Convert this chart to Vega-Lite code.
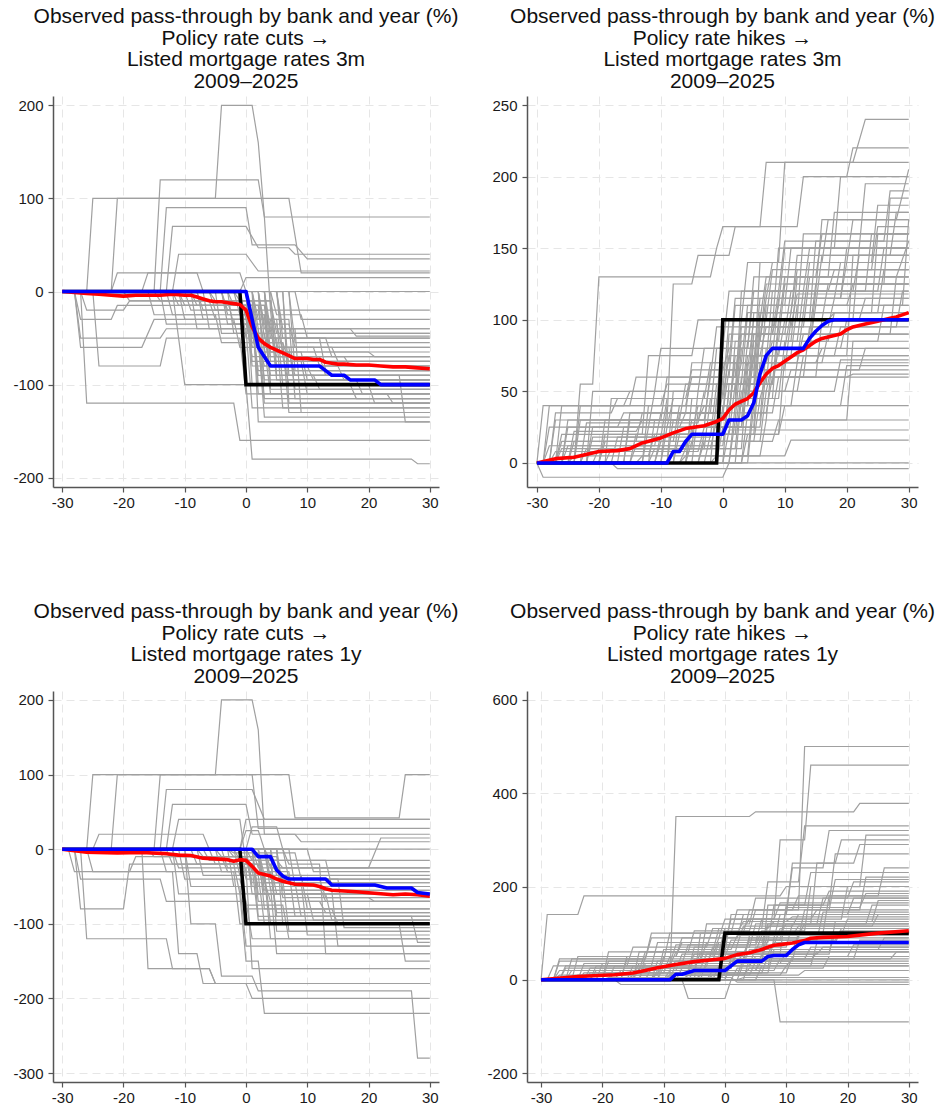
{
"$schema":"https://vega.github.io/schema/vega-lite/v6.json",
"background":"white",
"padding":{"left":12,"top":5,"right":5,"bottom":5},
"config":{
 "view":{"stroke":null},
 "font":"Liberation Sans",
 "axis":{"title":null,"labelFont":"Liberation Sans","labelFontSize":15,"labelColor":"#1a1a1a","domainColor":"#555555","domainWidth":1.5,"tickColor":"#555555","tickSize":5,"tickWidth":1.2,"grid":true,"gridColor":"#e6e6e6","gridDash":[8,5],"gridWidth":1,"labelExpr":"datum.value + ''"},
 "axisY":{"labelPadding":5},
 "axisX":{"labelPadding":3},
 "title":{"font":"Liberation Sans","fontSize":21,"fontWeight":"normal","lineHeight":21.7,"color":"#111111","anchor":"middle","frame":"group","offset":4}
},
"columns":2,
"spacing":{"row":204,"column":88},
"bounds":"flush",
"resolve":{"scale":{"x":"independent","y":"independent"}},
"datasets":{
"s1":[
{"s":"p","x":-30,"y":0},{"s":"p","x":-1,"y":0},{"s":"p","x":0,"y":-100},{"s":"p","x":30,"y":-100},
{"s":"m","x":-30,"y":0},{"s":"m","x":-28,"y":-1},{"s":"m","x":-26,"y":-2},{"s":"m","x":-24,"y":-3},{"s":"m","x":-22,"y":-4},{"s":"m","x":-20,"y":-5},{"s":"m","x":-18,"y":-4},{"s":"m","x":-16,"y":-4},{"s":"m","x":-14,"y":-4},{"s":"m","x":-12,"y":-3},{"s":"m","x":-10,"y":-4},{"s":"m","x":-9,"y":-4},{"s":"m","x":-8,"y":-6},{"s":"m","x":-7,"y":-8},{"s":"m","x":-6,"y":-10},{"s":"m","x":-5,"y":-11},{"s":"m","x":-4,"y":-11},{"s":"m","x":-3,"y":-12},{"s":"m","x":-2,"y":-13},{"s":"m","x":-1,"y":-14},{"s":"m","x":0,"y":-20},{"s":"m","x":1,"y":-38},{"s":"m","x":2,"y":-50},{"s":"m","x":3,"y":-56},{"s":"m","x":4,"y":-60},{"s":"m","x":5,"y":-63},{"s":"m","x":6,"y":-66},{"s":"m","x":7,"y":-69},{"s":"m","x":8,"y":-72},{"s":"m","x":10,"y":-72},{"s":"m","x":11,"y":-73},{"s":"m","x":12,"y":-73},{"s":"m","x":13,"y":-76},{"s":"m","x":14,"y":-77},{"s":"m","x":15,"y":-78},{"s":"m","x":16,"y":-78},{"s":"m","x":18,"y":-79},{"s":"m","x":20,"y":-79},{"s":"m","x":22,"y":-80},{"s":"m","x":24,"y":-81},{"s":"m","x":26,"y":-81},{"s":"m","x":28,"y":-82},{"s":"m","x":30,"y":-83},
{"s":"d","x":-30,"y":0},{"s":"d","x":0,"y":0},{"s":"d","x":1,"y":-30},{"s":"d","x":2,"y":-60},{"s":"d","x":3,"y":-70},{"s":"d","x":4,"y":-80},{"s":"d","x":12,"y":-80},{"s":"d","x":13,"y":-85},{"s":"d","x":14,"y":-90},{"s":"d","x":16,"y":-90},{"s":"d","x":17,"y":-95},{"s":"d","x":21,"y":-95},{"s":"d","x":22,"y":-100},{"s":"d","x":30,"y":-100}
],
"s2":[
{"s":"p","x":-30,"y":0},{"s":"p","x":-1,"y":0},{"s":"p","x":0,"y":100},{"s":"p","x":30,"y":100},
{"s":"m","x":-30,"y":0},{"s":"m","x":-27,"y":3},{"s":"m","x":-24,"y":4},{"s":"m","x":-21,"y":7},{"s":"m","x":-20,"y":8},{"s":"m","x":-17,"y":8.6},{"s":"m","x":-15,"y":10},{"s":"m","x":-13,"y":14},{"s":"m","x":-10,"y":17.5},{"s":"m","x":-8,"y":21},{"s":"m","x":-6,"y":24},{"s":"m","x":-3,"y":26},{"s":"m","x":-1,"y":29},{"s":"m","x":0,"y":31},{"s":"m","x":1,"y":37},{"s":"m","x":2,"y":41},{"s":"m","x":3,"y":43},{"s":"m","x":4,"y":45},{"s":"m","x":5,"y":49},{"s":"m","x":6,"y":56},{"s":"m","x":7,"y":62},{"s":"m","x":8,"y":66},{"s":"m","x":9,"y":68},{"s":"m","x":10,"y":71},{"s":"m","x":11,"y":74},{"s":"m","x":12,"y":77},{"s":"m","x":13,"y":79},{"s":"m","x":14,"y":82},{"s":"m","x":15,"y":85},{"s":"m","x":16,"y":87},{"s":"m","x":17,"y":88},{"s":"m","x":18,"y":89},{"s":"m","x":19,"y":90},{"s":"m","x":20,"y":93},{"s":"m","x":21,"y":95},{"s":"m","x":23,"y":97},{"s":"m","x":25,"y":99},{"s":"m","x":27,"y":101},{"s":"m","x":28,"y":102},{"s":"m","x":30,"y":105},
{"s":"d","x":-30,"y":0},{"s":"d","x":-9,"y":0},{"s":"d","x":-8,"y":8},{"s":"d","x":-7,"y":8},{"s":"d","x":-6,"y":15},{"s":"d","x":-5,"y":20},{"s":"d","x":0,"y":20},{"s":"d","x":1,"y":30},{"s":"d","x":3,"y":30},{"s":"d","x":4,"y":33},{"s":"d","x":5,"y":42},{"s":"d","x":6,"y":62},{"s":"d","x":7,"y":75},{"s":"d","x":8,"y":80},{"s":"d","x":13,"y":80},{"s":"d","x":14,"y":87},{"s":"d","x":15,"y":92},{"s":"d","x":16,"y":96},{"s":"d","x":17,"y":99},{"s":"d","x":18,"y":100},{"s":"d","x":30,"y":100}
],
"s3":[
{"s":"p","x":-30,"y":0},{"s":"p","x":-1,"y":0},{"s":"p","x":0,"y":-100},{"s":"p","x":30,"y":-100},
{"s":"m","x":-30,"y":0},{"s":"m","x":-26,"y":-4},{"s":"m","x":-21,"y":-5},{"s":"m","x":-17,"y":-4.5},{"s":"m","x":-13,"y":-6},{"s":"m","x":-11,"y":-8},{"s":"m","x":-9,"y":-8.5},{"s":"m","x":-7,"y":-12},{"s":"m","x":-5,"y":-13},{"s":"m","x":-3,"y":-14},{"s":"m","x":-2,"y":-16},{"s":"m","x":-1,"y":-14},{"s":"m","x":0,"y":-15},{"s":"m","x":1,"y":-23},{"s":"m","x":2,"y":-32},{"s":"m","x":3,"y":-34},{"s":"m","x":4,"y":-36},{"s":"m","x":5,"y":-40},{"s":"m","x":6,"y":-43},{"s":"m","x":7,"y":-45},{"s":"m","x":8,"y":-47},{"s":"m","x":11,"y":-48},{"s":"m","x":12,"y":-50},{"s":"m","x":13,"y":-53},{"s":"m","x":14,"y":-55},{"s":"m","x":16,"y":-56},{"s":"m","x":18,"y":-57},{"s":"m","x":21,"y":-59},{"s":"m","x":24,"y":-61},{"s":"m","x":26,"y":-60},{"s":"m","x":28,"y":-61},{"s":"m","x":30,"y":-63},
{"s":"d","x":-30,"y":0},{"s":"d","x":1,"y":0},{"s":"d","x":2,"y":-10},{"s":"d","x":4,"y":-10},{"s":"d","x":5,"y":-28},{"s":"d","x":6,"y":-36},{"s":"d","x":7,"y":-40},{"s":"d","x":13,"y":-40},{"s":"d","x":14,"y":-48},{"s":"d","x":21,"y":-48},{"s":"d","x":22,"y":-50},{"s":"d","x":23,"y":-52},{"s":"d","x":27,"y":-52},{"s":"d","x":28,"y":-58},{"s":"d","x":30,"y":-60}
],
"s4":[
{"s":"p","x":-30,"y":0},{"s":"p","x":-1,"y":0},{"s":"p","x":0,"y":100},{"s":"p","x":30,"y":100},
{"s":"m","x":-30,"y":0},{"s":"m","x":-24,"y":7},{"s":"m","x":-18,"y":11},{"s":"m","x":-15,"y":14.7},{"s":"m","x":-13,"y":20},{"s":"m","x":-11,"y":26},{"s":"m","x":-8,"y":33},{"s":"m","x":-5,"y":39},{"s":"m","x":-2,"y":43},{"s":"m","x":0,"y":46},{"s":"m","x":2,"y":54},{"s":"m","x":4,"y":58},{"s":"m","x":6,"y":65},{"s":"m","x":7,"y":70},{"s":"m","x":8,"y":74},{"s":"m","x":9,"y":75.5},{"s":"m","x":11,"y":79},{"s":"m","x":13,"y":84},{"s":"m","x":14,"y":89},{"s":"m","x":16,"y":91},{"s":"m","x":20,"y":93},{"s":"m","x":25,"y":100},{"s":"m","x":30,"y":105},
{"s":"d","x":-30,"y":0},{"s":"d","x":-9,"y":0},{"s":"d","x":-8,"y":12},{"s":"d","x":-7,"y":12},{"s":"d","x":-5,"y":20},{"s":"d","x":0,"y":20},{"s":"d","x":1,"y":30},{"s":"d","x":2,"y":40},{"s":"d","x":6,"y":40},{"s":"d","x":7,"y":50},{"s":"d","x":8,"y":52},{"s":"d","x":10,"y":52},{"s":"d","x":11,"y":65},{"s":"d","x":12,"y":75},{"s":"d","x":13,"y":80},{"s":"d","x":30,"y":80}
],
"g1":[
{"g":1,"x":-30,"y":0},{"g":1,"x":-26,"y":0},{"g":1,"x":-25,"y":100},{"g":1,"x":-5,"y":100},{"g":1,"x":-4,"y":200},{"g":1,"x":1,"y":200},{"g":1,"x":2,"y":160},{"g":1,"x":3,"y":80},{"g":1,"x":30,"y":80},
{"g":2,"x":-30,"y":0},{"g":2,"x":-22,"y":0},{"g":2,"x":-21,"y":100},{"g":2,"x":7,"y":100},{"g":2,"x":9,"y":20},{"g":2,"x":30,"y":20},
{"g":3,"x":-30,"y":0},{"g":3,"x":-15,"y":0},{"g":3,"x":-14,"y":120},{"g":3,"x":2,"y":120},{"g":3,"x":3,"y":80},{"g":3,"x":4,"y":-20},{"g":3,"x":30,"y":-20},
{"g":4,"x":-30,"y":0},{"g":4,"x":-14,"y":0},{"g":4,"x":-13,"y":90},{"g":4,"x":0,"y":90},{"g":4,"x":1,"y":50},{"g":4,"x":8,"y":50},{"g":4,"x":10,"y":35},{"g":4,"x":30,"y":35},
{"g":5,"x":-30,"y":0},{"g":5,"x":-13,"y":0},{"g":5,"x":-12,"y":70},{"g":5,"x":0,"y":70},{"g":5,"x":2,"y":47},{"g":5,"x":7,"y":47},{"g":5,"x":8,"y":40},{"g":5,"x":30,"y":40},
{"g":6,"x":-30,"y":0},{"g":6,"x":-12,"y":0},{"g":6,"x":-11,"y":40},{"g":6,"x":0,"y":40},{"g":6,"x":2,"y":22},{"g":6,"x":30,"y":22},
{"g":7,"x":-30,"y":0},{"g":7,"x":-22,"y":0},{"g":7,"x":-21,"y":20},{"g":7,"x":-8,"y":20},{"g":7,"x":-7,"y":0},{"g":7,"x":2,"y":0},{"g":7,"x":3,"y":-40},{"g":7,"x":30,"y":-40},
{"g":8,"x":-30,"y":0},{"g":8,"x":-17,"y":0},{"g":8,"x":-16,"y":20},{"g":8,"x":-1,"y":20},{"g":8,"x":0,"y":0},{"g":8,"x":30,"y":0},
{"g":9,"x":-30,"y":0},{"g":9,"x":-27,"y":0},{"g":9,"x":-26,"y":-20},{"g":9,"x":-20,"y":-20},{"g":9,"x":-19,"y":-10},{"g":9,"x":4,"y":-10},{"g":9,"x":5,"y":-60},{"g":9,"x":30,"y":-60},
{"g":10,"x":-30,"y":0},{"g":10,"x":-28,"y":0},{"g":10,"x":-27,"y":-30},{"g":10,"x":-22,"y":-30},{"g":10,"x":-21,"y":-15},{"g":10,"x":3,"y":-15},{"g":10,"x":5,"y":-70},{"g":10,"x":12,"y":-70},{"g":10,"x":13,"y":-90},{"g":10,"x":30,"y":-90},
{"g":11,"x":-30,"y":0},{"g":11,"x":-28,"y":0},{"g":11,"x":-27,"y":-50},{"g":11,"x":-14,"y":-50},{"g":11,"x":-13,"y":-40},{"g":11,"x":1,"y":-40},{"g":11,"x":2,"y":-90},{"g":11,"x":30,"y":-90},
{"g":12,"x":-30,"y":0},{"g":12,"x":-28,"y":0},{"g":12,"x":-27,"y":-60},{"g":12,"x":-17,"y":-60},{"g":12,"x":-15,"y":-30},{"g":12,"x":0,"y":-30},{"g":12,"x":1,"y":-70},{"g":12,"x":6,"y":-70},{"g":12,"x":7,"y":-100},{"g":12,"x":30,"y":-100},
{"g":13,"x":-30,"y":0},{"g":13,"x":-25,"y":0},{"g":13,"x":-24,"y":-80},{"g":13,"x":-14,"y":-80},{"g":13,"x":-13,"y":-50},{"g":13,"x":-1,"y":-50},{"g":13,"x":0,"y":-110},{"g":13,"x":30,"y":-110},
{"g":14,"x":-30,"y":0},{"g":14,"x":-27,"y":0},{"g":14,"x":-26,"y":-120},{"g":14,"x":-2,"y":-120},{"g":14,"x":-1,"y":-160},{"g":14,"x":30,"y":-160},
{"g":15,"x":-30,"y":0},{"g":15,"x":-12,"y":0},{"g":15,"x":-11,"y":-50},{"g":15,"x":-10,"y":-100},{"g":15,"x":0,"y":-100},{"g":15,"x":1,"y":-180},{"g":15,"x":27,"y":-180},{"g":15,"x":28,"y":-185},{"g":15,"x":30,"y":-185},
{"g":16,"x":-30,"y":0},{"g":16,"x":-10,"y":0},{"g":16,"x":-9,"y":-20},{"g":16,"x":0,"y":-20},{"g":16,"x":1,"y":-50},{"g":16,"x":30,"y":-50},
{"g":17,"x":-30,"y":0},{"g":17,"x":-8,"y":0},{"g":17,"x":-7,"y":-30},{"g":17,"x":1,"y":-30},{"g":17,"x":3,"y":-80},{"g":17,"x":10,"y":-80},{"g":17,"x":11,"y":-95},{"g":17,"x":30,"y":-95},
{"g":18,"x":-30,"y":0},{"g":18,"x":-6,"y":0},{"g":18,"x":-5,"y":-20},{"g":18,"x":2,"y":-20},{"g":18,"x":3,"y":-60},{"g":18,"x":14,"y":-60},{"g":18,"x":15,"y":-75},{"g":18,"x":30,"y":-75},
{"g":19,"x":-30,"y":0},{"g":19,"x":-4,"y":0},{"g":19,"x":-3,"y":-25},{"g":19,"x":3,"y":-25},{"g":19,"x":4,"y":-100},{"g":19,"x":20,"y":-100},{"g":19,"x":21,"y":-120},{"g":19,"x":30,"y":-120},
{"g":20,"x":-30,"y":0},{"g":20,"x":-2,"y":0},{"g":20,"x":-1,"y":-10},{"g":20,"x":4,"y":-10},{"g":20,"x":5,"y":-45},{"g":20,"x":30,"y":-45},
{"g":21,"x":-30,"y":0},{"g":21,"x":0,"y":0},{"g":21,"x":1,"y":-60},{"g":21,"x":7,"y":-60},{"g":21,"x":8,"y":-105},{"g":21,"x":30,"y":-105},
{"g":22,"x":-30,"y":0},{"g":22,"x":1,"y":0},{"g":22,"x":2,"y":-40},{"g":22,"x":8,"y":-40},{"g":22,"x":9,"y":-130},{"g":22,"x":30,"y":-130},
{"g":23,"x":-30,"y":0},{"g":23,"x":2,"y":0},{"g":23,"x":3,"y":-100},{"g":23,"x":17,"y":-100},{"g":23,"x":18,"y":-115},{"g":23,"x":30,"y":-115},
{"g":24,"x":-30,"y":0},{"g":24,"x":3,"y":0},{"g":24,"x":4,"y":-50},{"g":24,"x":12,"y":-50},{"g":24,"x":13,"y":-85},{"g":24,"x":30,"y":-85},
{"g":25,"x":-30,"y":0},{"g":25,"x":5,"y":0},{"g":25,"x":6,"y":-70},{"g":25,"x":16,"y":-70},{"g":25,"x":17,"y":-80},{"g":25,"x":30,"y":-80},
{"g":26,"x":-30,"y":0},{"g":26,"x":6,"y":0},{"g":26,"x":7,"y":-90},{"g":26,"x":25,"y":-90},{"g":26,"x":26,"y":-140},{"g":26,"x":30,"y":-140},
{"g":27,"x":-30,"y":0},{"g":27,"x":7,"y":0},{"g":27,"x":8,"y":-55},{"g":27,"x":30,"y":-55},
{"g":28,"x":-30,"y":0},{"g":28,"x":8,"y":0},{"g":28,"x":9,"y":-30},{"g":28,"x":30,"y":-30},
{"g":29,"x":-30,"y":0},{"g":29,"x":-9,"y":0},{"g":29,"x":-8,"y":-40},{"g":29,"x":0,"y":-40},{"g":29,"x":1,"y":-125},{"g":29,"x":30,"y":-125},
{"g":30,"x":-30,"y":0},{"g":30,"x":-20,"y":0},{"g":30,"x":-19,"y":-10},{"g":30,"x":-3,"y":-10},{"g":30,"x":-2,"y":-35},{"g":30,"x":5,"y":-35},{"g":30,"x":6,"y":-65},{"g":30,"x":30,"y":-65},
{"g":31,"x":-30,"y":0},{"g":31,"x":-1,"y":0},{"g":31,"x":0,"y":-50},{"g":31,"x":2,"y":-50},{"g":31,"x":3,"y":-135},{"g":31,"x":30,"y":-135},
{"g":32,"x":-30,"y":0},{"g":32,"x":-3,"y":0},{"g":32,"x":-2,"y":-15},{"g":32,"x":1,"y":-15},{"g":32,"x":2,"y":-100},{"g":32,"x":30,"y":-100},
{"g":33,"x":-30,"y":0},{"g":33,"x":0,"y":0},{"g":33,"x":1,"y":-75},{"g":33,"x":9,"y":-75},{"g":33,"x":10,"y":-110},{"g":33,"x":23,"y":-110},{"g":33,"x":24,"y":-120},{"g":33,"x":30,"y":-120},
{"g":34,"x":-30,"y":0},{"g":34,"x":4,"y":0},{"g":34,"x":5,"y":-25},{"g":34,"x":9,"y":-25},{"g":34,"x":10,"y":-50},{"g":34,"x":30,"y":-50},
{"g":35,"x":-30,"y":0},{"g":35,"x":-5,"y":0},{"g":35,"x":-4,"y":-45},{"g":35,"x":3,"y":-45},{"g":35,"x":4,"y":-90},{"g":35,"x":11,"y":-90},{"g":35,"x":12,"y":-105},{"g":35,"x":30,"y":-105},
{"g":36,"x":-30,"y":0},{"g":36,"x":-11,"y":0},{"g":36,"x":-10,"y":-15},{"g":36,"x":2,"y":-15},{"g":36,"x":3,"y":-65},{"g":36,"x":20,"y":-65},{"g":36,"x":21,"y":-70},{"g":36,"x":30,"y":-70},
{"g":37,"x":-30,"y":0},{"g":37,"x":1,"y":0},{"g":37,"x":2,"y":-140},{"g":37,"x":30,"y":-140},
{"g":38,"x":-30,"y":0},{"g":38,"x":3,"y":0},{"g":38,"x":4,"y":-40},{"g":38,"x":17,"y":-40},{"g":38,"x":18,"y":-48},{"g":38,"x":30,"y":-48},
{"g":39,"x":-30,"y":0},{"g":39,"x":-15,"y":0},{"g":39,"x":-14,"y":-10},{"g":39,"x":-6,"y":-10},{"g":39,"x":-5,"y":-30},{"g":39,"x":4,"y":-30},{"g":39,"x":5,"y":-95},{"g":39,"x":30,"y":-95},
{"g":40,"x":-30,"y":0},{"g":40,"x":-13,"y":0},{"g":40,"x":-12,"y":-25},{"g":40,"x":1,"y":-25},{"g":40,"x":2,"y":-110},{"g":40,"x":30,"y":-110},
{"g":41,"x":-30,"y":0},{"g":41,"x":-7,"y":0},{"g":41,"x":-6,"y":-40},{"g":41,"x":2,"y":-40},{"g":41,"x":3,"y":-115},{"g":41,"x":30,"y":-115},
{"g":42,"x":-30,"y":0},{"g":42,"x":-4,"y":0},{"g":42,"x":-3,"y":-20},{"g":42,"x":0,"y":-20},{"g":42,"x":1,"y":-80},{"g":42,"x":30,"y":-80},
{"g":43,"x":-30,"y":0},{"g":43,"x":-1,"y":0},{"g":43,"x":0,"y":-30},{"g":43,"x":5,"y":-30},{"g":43,"x":6,"y":-100},{"g":43,"x":30,"y":-100},
{"g":44,"x":-30,"y":0},{"g":44,"x":1,"y":0},{"g":44,"x":2,"y":-55},{"g":44,"x":6,"y":-55},{"g":44,"x":7,"y":-130},{"g":44,"x":30,"y":-130},
{"g":45,"x":-30,"y":0},{"g":45,"x":2,"y":0},{"g":45,"x":3,"y":-35},{"g":45,"x":7,"y":-35},{"g":45,"x":8,"y":-60},{"g":45,"x":30,"y":-60},
{"g":46,"x":-30,"y":0},{"g":46,"x":4,"y":0},{"g":46,"x":5,"y":-90},{"g":46,"x":30,"y":-90},
{"g":47,"x":-30,"y":0},{"g":47,"x":5,"y":0},{"g":47,"x":6,"y":-50},{"g":47,"x":13,"y":-50},{"g":47,"x":14,"y":-70},{"g":47,"x":30,"y":-70},
{"g":48,"x":-30,"y":0},{"g":48,"x":6,"y":0},{"g":48,"x":7,"y":-120},{"g":48,"x":30,"y":-120},
{"g":49,"x":-30,"y":0},{"g":49,"x":-9,"y":0},{"g":49,"x":-8,"y":-15},{"g":49,"x":3,"y":-15},{"g":49,"x":4,"y":-75},{"g":49,"x":30,"y":-75},
{"g":50,"x":-30,"y":0},{"g":50,"x":-3,"y":0},{"g":50,"x":-2,"y":-45},{"g":50,"x":2,"y":-45},{"g":50,"x":3,"y":-95},{"g":50,"x":18,"y":-95},{"g":50,"x":19,"y":-110},{"g":50,"x":30,"y":-110},
{"g":51,"x":-30,"y":0},{"g":51,"x":0,"y":0},{"g":51,"x":1,"y":-45},{"g":51,"x":30,"y":-45},
{"g":52,"x":-30,"y":0},{"g":52,"x":7,"y":0},{"g":52,"x":8,"y":-85},{"g":52,"x":30,"y":-85},
{"g":53,"x":-30,"y":0},{"g":53,"x":-14,"y":0},{"g":53,"x":-13,"y":-35},{"g":53,"x":0,"y":-35},{"g":53,"x":1,"y":-60},{"g":53,"x":11,"y":-60},{"g":53,"x":12,"y":-80},{"g":53,"x":30,"y":-80},
{"g":54,"x":-30,"y":0},{"g":54,"x":3,"y":0},{"g":54,"x":4,"y":-65},{"g":54,"x":9,"y":-65},{"g":54,"x":10,"y":-95},{"g":54,"x":30,"y":-95},
{"g":55,"x":-30,"y":0},{"g":55,"x":-1,"y":0},{"g":55,"x":0,"y":15},{"g":55,"x":30,"y":15},
{"g":56,"x":-30,"y":0},{"g":56,"x":-11,"y":0},{"g":56,"x":-10,"y":-30},{"g":56,"x":-2,"y":-30},{"g":56,"x":-1,"y":-60},{"g":56,"x":3,"y":-60},{"g":56,"x":4,"y":-110},{"g":56,"x":30,"y":-110},
{"g":57,"x":-30,"y":0},{"g":57,"x":-6,"y":0},{"g":57,"x":-5,"y":-10},{"g":57,"x":1,"y":-10},{"g":57,"x":2,"y":-65},{"g":57,"x":7,"y":-65},{"g":57,"x":8,"y":-90},{"g":57,"x":30,"y":-90},
{"g":58,"x":-30,"y":0},{"g":58,"x":-2,"y":0},{"g":58,"x":-1,"y":-25},{"g":58,"x":3,"y":-25},{"g":58,"x":4,"y":-70},{"g":58,"x":30,"y":-70},
{"g":59,"x":-30,"y":0},{"g":59,"x":0,"y":0},{"g":59,"x":1,"y":-100},{"g":59,"x":30,"y":-100},
{"g":60,"x":-30,"y":0},{"g":60,"x":2,"y":0},{"g":60,"x":3,"y":-50},{"g":60,"x":5,"y":-50},{"g":60,"x":6,"y":-125},{"g":60,"x":30,"y":-125},
{"g":61,"x":-30,"y":0},{"g":61,"x":-8,"y":0},{"g":61,"x":-7,"y":-20},{"g":61,"x":4,"y":-20},{"g":61,"x":5,"y":-80},{"g":61,"x":15,"y":-80},{"g":61,"x":16,"y":-95},{"g":61,"x":30,"y":-95},
{"g":62,"x":-30,"y":0},{"g":62,"x":-12,"y":0},{"g":62,"x":-11,"y":-15},{"g":62,"x":0,"y":-15},{"g":62,"x":1,"y":-55},{"g":62,"x":6,"y":-55},{"g":62,"x":7,"y":-75},{"g":62,"x":30,"y":-75},
{"g":63,"x":-30,"y":0},{"g":63,"x":1,"y":0},{"g":63,"x":2,"y":-30},{"g":63,"x":7,"y":-30},{"g":63,"x":8,"y":-115},{"g":63,"x":30,"y":-115},
{"g":64,"x":-30,"y":0},{"g":64,"x":5,"y":0},{"g":64,"x":6,"y":-40},{"g":64,"x":30,"y":-40},
{"g":65,"x":-30,"y":0},{"g":65,"x":-4,"y":0},{"g":65,"x":-3,"y":-35},{"g":65,"x":1,"y":-35},{"g":65,"x":2,"y":-85},{"g":65,"x":30,"y":-85},
{"g":66,"x":-30,"y":0},{"g":66,"x":3,"y":0},{"g":66,"x":4,"y":-105},{"g":66,"x":30,"y":-105},
{"g":67,"x":-30,"y":0},{"g":67,"x":-16,"y":0},{"g":67,"x":-15,"y":-25},{"g":67,"x":-5,"y":-25},{"g":67,"x":-4,"y":-55},{"g":67,"x":2,"y":-55},{"g":67,"x":3,"y":-120},{"g":67,"x":30,"y":-120}
],
"g2":[
{"g":1,"x":-30,"y":0},{"g":1,"x":-24,"y":0},{"g":1,"x":-23,"y":55},{"g":1,"x":-21,"y":55},{"g":1,"x":-20,"y":130},{"g":1,"x":-2,"y":130},{"g":1,"x":-1,"y":150},{"g":1,"x":0,"y":165},{"g":1,"x":6,"y":165},{"g":1,"x":7,"y":210},{"g":1,"x":21,"y":210},{"g":1,"x":23,"y":240},{"g":1,"x":30,"y":240},
{"g":2,"x":-30,"y":0},{"g":2,"x":-20,"y":0},{"g":2,"x":-19,"y":30},{"g":2,"x":-9,"y":30},{"g":2,"x":-8,"y":125},{"g":2,"x":-5,"y":125},{"g":2,"x":-4,"y":145},{"g":2,"x":1,"y":145},{"g":2,"x":2,"y":165},{"g":2,"x":12,"y":165},{"g":2,"x":13,"y":200},{"g":2,"x":20,"y":200},{"g":2,"x":21,"y":220},{"g":2,"x":30,"y":220},
{"g":3,"x":-30,"y":0},{"g":3,"x":-27,"y":0},{"g":3,"x":-26,"y":20},{"g":3,"x":-13,"y":20},{"g":3,"x":-12,"y":75},{"g":3,"x":-5,"y":75},{"g":3,"x":-4,"y":100},{"g":3,"x":3,"y":100},{"g":3,"x":4,"y":140},{"g":3,"x":9,"y":140},{"g":3,"x":10,"y":210},{"g":3,"x":30,"y":210},
{"g":4,"x":-30,"y":0},{"g":4,"x":-29,"y":0},{"g":4,"x":-28,"y":40},{"g":4,"x":-15,"y":40},{"g":4,"x":-14,"y":60},{"g":4,"x":-2,"y":60},{"g":4,"x":-1,"y":95},{"g":4,"x":8,"y":95},{"g":4,"x":9,"y":150},{"g":4,"x":18,"y":150},{"g":4,"x":19,"y":200},{"g":4,"x":30,"y":200},
{"g":5,"x":-30,"y":0},{"g":5,"x":-29,"y":40},{"g":5,"x":-16,"y":40},{"g":5,"x":-15,"y":50},{"g":5,"x":-4,"y":50},{"g":5,"x":-3,"y":80},{"g":5,"x":4,"y":80},{"g":5,"x":5,"y":120},{"g":5,"x":15,"y":120},{"g":5,"x":16,"y":170},{"g":5,"x":28,"y":170},{"g":5,"x":30,"y":205},
{"g":6,"x":-30,"y":0},{"g":6,"x":-28,"y":0},{"g":6,"x":-27,"y":30},{"g":6,"x":-10,"y":30},{"g":6,"x":-9,"y":60},{"g":6,"x":1,"y":60},{"g":6,"x":2,"y":110},{"g":6,"x":10,"y":110},{"g":6,"x":11,"y":150},{"g":6,"x":22,"y":150},{"g":6,"x":23,"y":195},{"g":6,"x":30,"y":195},
{"g":7,"x":-30,"y":0},{"g":7,"x":-25,"y":0},{"g":7,"x":-24,"y":15},{"g":7,"x":-8,"y":15},{"g":7,"x":-7,"y":40},{"g":7,"x":2,"y":40},{"g":7,"x":3,"y":90},{"g":7,"x":14,"y":90},{"g":7,"x":15,"y":125},{"g":7,"x":26,"y":125},{"g":7,"x":27,"y":185},{"g":7,"x":30,"y":185},
{"g":8,"x":-30,"y":0},{"g":8,"x":-26,"y":0},{"g":8,"x":-25,"y":25},{"g":8,"x":-12,"y":25},{"g":8,"x":-11,"y":50},{"g":8,"x":0,"y":50},{"g":8,"x":1,"y":100},{"g":8,"x":6,"y":100},{"g":8,"x":7,"y":130},{"g":8,"x":17,"y":130},{"g":8,"x":18,"y":175},{"g":8,"x":30,"y":175},
{"g":9,"x":-30,"y":0},{"g":9,"x":-23,"y":0},{"g":9,"x":-22,"y":10},{"g":9,"x":-6,"y":10},{"g":9,"x":-5,"y":30},{"g":9,"x":3,"y":30},{"g":9,"x":4,"y":70},{"g":9,"x":12,"y":70},{"g":9,"x":13,"y":105},{"g":9,"x":24,"y":105},{"g":9,"x":25,"y":160},{"g":9,"x":30,"y":160},
{"g":10,"x":-30,"y":0},{"g":10,"x":-28,"y":0},{"g":10,"x":-27,"y":35},{"g":10,"x":-18,"y":35},{"g":10,"x":-17,"y":45},{"g":10,"x":-3,"y":45},{"g":10,"x":-2,"y":70},{"g":10,"x":5,"y":70},{"g":10,"x":6,"y":115},{"g":10,"x":19,"y":115},{"g":10,"x":20,"y":140},{"g":10,"x":30,"y":140},
{"g":11,"x":-30,"y":0},{"g":11,"x":-20,"y":0},{"g":11,"x":-19,"y":20},{"g":11,"x":-5,"y":20},{"g":11,"x":-4,"y":40},{"g":11,"x":4,"y":40},{"g":11,"x":5,"y":85},{"g":11,"x":11,"y":85},{"g":11,"x":12,"y":130},{"g":11,"x":28,"y":130},{"g":11,"x":30,"y":155},
{"g":12,"x":-30,"y":0},{"g":12,"x":-29,"y":0},{"g":12,"x":-28,"y":12},{"g":12,"x":-11,"y":12},{"g":12,"x":-10,"y":35},{"g":12,"x":1,"y":35},{"g":12,"x":2,"y":75},{"g":12,"x":9,"y":75},{"g":12,"x":10,"y":100},{"g":12,"x":21,"y":100},{"g":12,"x":22,"y":150},{"g":12,"x":30,"y":150},
{"g":13,"x":-30,"y":0},{"g":13,"x":-18,"y":0},{"g":13,"x":-17,"y":-4},{"g":13,"x":30,"y":-4},
{"g":14,"x":-30,"y":0},{"g":14,"x":-29,"y":-10},{"g":14,"x":0,"y":-10},{"g":14,"x":1,"y":0},{"g":14,"x":30,"y":0},
{"g":15,"x":-30,"y":0},{"g":15,"x":-22,"y":0},{"g":15,"x":-21,"y":25},{"g":15,"x":-9,"y":25},{"g":15,"x":-8,"y":45},{"g":15,"x":6,"y":45},{"g":15,"x":7,"y":60},{"g":15,"x":30,"y":60},
{"g":16,"x":-30,"y":0},{"g":16,"x":-26,"y":0},{"g":16,"x":-25,"y":30},{"g":16,"x":-7,"y":30},{"g":16,"x":-6,"y":55},{"g":16,"x":8,"y":55},{"g":16,"x":9,"y":80},{"g":16,"x":19,"y":80},{"g":16,"x":20,"y":100},{"g":16,"x":30,"y":100},
{"g":17,"x":-30,"y":0},{"g":17,"x":-15,"y":0},{"g":17,"x":-14,"y":20},{"g":17,"x":0,"y":20},{"g":17,"x":1,"y":40},{"g":17,"x":30,"y":40},
{"g":18,"x":-30,"y":0},{"g":18,"x":-12,"y":0},{"g":18,"x":-11,"y":10},{"g":18,"x":2,"y":10},{"g":18,"x":3,"y":50},{"g":18,"x":10,"y":50},{"g":18,"x":11,"y":65},{"g":18,"x":30,"y":65},
{"g":19,"x":-30,"y":0},{"g":19,"x":-27,"y":0},{"g":19,"x":-26,"y":15},{"g":19,"x":-14,"y":15},{"g":19,"x":-13,"y":35},{"g":19,"x":-1,"y":35},{"g":19,"x":0,"y":70},{"g":19,"x":7,"y":70},{"g":19,"x":8,"y":85},{"g":19,"x":25,"y":85},{"g":19,"x":26,"y":110},{"g":19,"x":30,"y":110},
{"g":20,"x":-30,"y":0},{"g":20,"x":-24,"y":0},{"g":20,"x":-23,"y":40},{"g":20,"x":-10,"y":40},{"g":20,"x":-9,"y":55},{"g":20,"x":4,"y":55},{"g":20,"x":5,"y":75},{"g":20,"x":30,"y":75},
{"g":21,"x":-30,"y":0},{"g":21,"x":-10,"y":0},{"g":21,"x":-9,"y":25},{"g":21,"x":3,"y":25},{"g":21,"x":4,"y":60},{"g":21,"x":13,"y":60},{"g":21,"x":14,"y":95},{"g":21,"x":28,"y":95},{"g":21,"x":29,"y":120},{"g":21,"x":30,"y":120},
{"g":22,"x":-30,"y":0},{"g":22,"x":-8,"y":0},{"g":22,"x":-7,"y":20},{"g":22,"x":5,"y":20},{"g":22,"x":6,"y":70},{"g":22,"x":16,"y":70},{"g":22,"x":17,"y":90},{"g":22,"x":30,"y":90},
{"g":23,"x":-30,"y":0},{"g":23,"x":-21,"y":0},{"g":23,"x":-20,"y":10},{"g":23,"x":-2,"y":10},{"g":23,"x":-1,"y":30},{"g":23,"x":7,"y":30},{"g":23,"x":8,"y":75},{"g":23,"x":20,"y":75},{"g":23,"x":21,"y":145},{"g":23,"x":30,"y":145},
{"g":24,"x":-30,"y":0},{"g":24,"x":-6,"y":0},{"g":24,"x":-5,"y":15},{"g":24,"x":6,"y":15},{"g":24,"x":7,"y":50},{"g":24,"x":18,"y":50},{"g":24,"x":19,"y":72},{"g":24,"x":30,"y":72},
{"g":25,"x":-30,"y":0},{"g":25,"x":-4,"y":0},{"g":25,"x":-3,"y":20},{"g":25,"x":9,"y":20},{"g":25,"x":10,"y":40},{"g":25,"x":19,"y":40},{"g":25,"x":20,"y":68},{"g":25,"x":30,"y":68},
{"g":26,"x":-30,"y":0},{"g":26,"x":-2,"y":0},{"g":26,"x":-1,"y":5},{"g":26,"x":10,"y":5},{"g":26,"x":11,"y":16},{"g":26,"x":30,"y":16},
{"g":27,"x":-30,"y":0},{"g":27,"x":0,"y":0},{"g":27,"x":1,"y":23},{"g":27,"x":30,"y":23},
{"g":29,"x":-30,"y":0},{"g":29,"x":-16,"y":0},{"g":29,"x":-15,"y":30},{"g":29,"x":-3,"y":30},{"g":29,"x":-2,"y":60},{"g":29,"x":2,"y":60},{"g":29,"x":3,"y":85},{"g":29,"x":12,"y":85},{"g":29,"x":13,"y":120},{"g":29,"x":17,"y":120},{"g":29,"x":18,"y":135},{"g":29,"x":30,"y":135},
{"g":30,"x":-30,"y":0},{"g":30,"x":-25,"y":0},{"g":30,"x":-24,"y":5},{"g":30,"x":-12,"y":5},{"g":30,"x":-11,"y":20},{"g":30,"x":1,"y":20},{"g":30,"x":2,"y":55},{"g":30,"x":8,"y":55},{"g":30,"x":9,"y":100},{"g":30,"x":22,"y":100},{"g":30,"x":23,"y":115},{"g":30,"x":30,"y":115},
{"g":31,"x":-30,"y":0},{"g":31,"x":-19,"y":0},{"g":31,"x":-18,"y":45},{"g":31,"x":-6,"y":45},{"g":31,"x":-5,"y":65},{"g":31,"x":0,"y":65},{"g":31,"x":1,"y":80},{"g":31,"x":14,"y":80},{"g":31,"x":15,"y":110},{"g":31,"x":29,"y":110},{"g":31,"x":30,"y":170},
{"g":32,"x":-30,"y":0},{"g":32,"x":-28,"y":0},{"g":32,"x":-27,"y":8},{"g":32,"x":-4,"y":8},{"g":32,"x":-3,"y":25},{"g":32,"x":5,"y":25},{"g":32,"x":6,"y":95},{"g":32,"x":11,"y":95},{"g":32,"x":12,"y":118},{"g":32,"x":30,"y":118},
{"g":33,"x":-30,"y":0},{"g":33,"x":-13,"y":0},{"g":33,"x":-12,"y":40},{"g":33,"x":-1,"y":40},{"g":33,"x":0,"y":100},{"g":33,"x":17,"y":100},{"g":33,"x":18,"y":105},{"g":33,"x":30,"y":105},
{"g":34,"x":-30,"y":0},{"g":34,"x":-9,"y":0},{"g":34,"x":-8,"y":50},{"g":34,"x":2,"y":50},{"g":34,"x":3,"y":70},{"g":34,"x":15,"y":70},{"g":34,"x":16,"y":80},{"g":34,"x":30,"y":80},
{"g":35,"x":-30,"y":0},{"g":35,"x":-17,"y":0},{"g":35,"x":-16,"y":25},{"g":35,"x":-7,"y":25},{"g":35,"x":-6,"y":35},{"g":35,"x":7,"y":35},{"g":35,"x":8,"y":60},{"g":35,"x":20,"y":60},{"g":35,"x":21,"y":62},{"g":35,"x":30,"y":62},
{"g":36,"x":-30,"y":0},{"g":36,"x":-22,"y":0},{"g":36,"x":-21,"y":50},{"g":36,"x":-11,"y":50},{"g":36,"x":-10,"y":80},{"g":36,"x":0,"y":80},{"g":36,"x":1,"y":120},{"g":36,"x":9,"y":120},{"g":36,"x":10,"y":155},{"g":36,"x":26,"y":155},{"g":36,"x":27,"y":190},{"g":36,"x":30,"y":190},
{"g":37,"x":-30,"y":0},{"g":37,"x":-27,"y":0},{"g":37,"x":-26,"y":10},{"g":37,"x":-3,"y":10},{"g":37,"x":-2,"y":45},{"g":37,"x":4,"y":45},{"g":37,"x":5,"y":105},{"g":37,"x":13,"y":105},{"g":37,"x":14,"y":140},{"g":37,"x":24,"y":140},{"g":37,"x":25,"y":180},{"g":37,"x":30,"y":180},
{"g":38,"x":-30,"y":0},{"g":38,"x":-11,"y":0},{"g":38,"x":-10,"y":15},{"g":38,"x":8,"y":15},{"g":38,"x":9,"y":30},{"g":38,"x":20,"y":30},{"g":38,"x":21,"y":85},{"g":38,"x":30,"y":85},
{"g":39,"x":-30,"y":0},{"g":39,"x":-3,"y":0},{"g":39,"x":-2,"y":20},{"g":39,"x":2,"y":20},{"g":39,"x":3,"y":60},{"g":39,"x":6,"y":60},{"g":39,"x":7,"y":110},{"g":39,"x":15,"y":110},{"g":39,"x":16,"y":145},{"g":39,"x":30,"y":145},
{"g":40,"x":-30,"y":0},{"g":40,"x":-1,"y":0},{"g":40,"x":0,"y":40},{"g":40,"x":3,"y":40},{"g":40,"x":4,"y":85},{"g":40,"x":9,"y":85},{"g":40,"x":10,"y":125},{"g":40,"x":30,"y":125},
{"g":41,"x":-30,"y":0},{"g":41,"x":0,"y":0},{"g":41,"x":1,"y":55},{"g":41,"x":5,"y":55},{"g":41,"x":6,"y":100},{"g":41,"x":12,"y":100},{"g":41,"x":13,"y":160},{"g":41,"x":30,"y":160},
{"g":42,"x":-30,"y":0},{"g":42,"x":1,"y":0},{"g":42,"x":2,"y":30},{"g":42,"x":6,"y":30},{"g":42,"x":7,"y":80},{"g":42,"x":14,"y":80},{"g":42,"x":15,"y":120},{"g":42,"x":25,"y":120},{"g":42,"x":26,"y":150},{"g":42,"x":30,"y":150},
{"g":43,"x":-30,"y":0},{"g":43,"x":2,"y":0},{"g":43,"x":3,"y":45},{"g":43,"x":8,"y":45},{"g":43,"x":9,"y":95},{"g":43,"x":17,"y":95},{"g":43,"x":18,"y":115},{"g":43,"x":30,"y":115},
{"g":44,"x":-30,"y":0},{"g":44,"x":-7,"y":0},{"g":44,"x":-6,"y":10},{"g":44,"x":3,"y":10},{"g":44,"x":4,"y":65},{"g":44,"x":10,"y":65},{"g":44,"x":11,"y":100},{"g":44,"x":30,"y":100},
{"g":45,"x":-30,"y":0},{"g":45,"x":-5,"y":0},{"g":45,"x":-4,"y":35},{"g":45,"x":1,"y":35},{"g":45,"x":2,"y":70},{"g":45,"x":7,"y":70},{"g":45,"x":8,"y":120},{"g":45,"x":23,"y":120},{"g":45,"x":24,"y":160},{"g":45,"x":30,"y":160},
{"g":46,"x":-30,"y":0},{"g":46,"x":3,"y":0},{"g":46,"x":4,"y":20},{"g":46,"x":9,"y":20},{"g":46,"x":10,"y":75},{"g":46,"x":18,"y":75},{"g":46,"x":19,"y":95},{"g":46,"x":30,"y":95},
{"g":47,"x":-30,"y":0},{"g":47,"x":-14,"y":0},{"g":47,"x":-13,"y":5},{"g":47,"x":4,"y":5},{"g":47,"x":5,"y":50},{"g":47,"x":12,"y":50},{"g":47,"x":13,"y":75},{"g":47,"x":30,"y":75},
{"g":48,"x":-30,"y":0},{"g":48,"x":-26,"y":0},{"g":48,"x":-25,"y":12},{"g":48,"x":-1,"y":12},{"g":48,"x":0,"y":60},{"g":48,"x":5,"y":60},{"g":48,"x":6,"y":140},{"g":48,"x":16,"y":140},{"g":48,"x":17,"y":170},{"g":48,"x":30,"y":170},
{"g":49,"x":-30,"y":0},{"g":49,"x":-23,"y":0},{"g":49,"x":-22,"y":28},{"g":49,"x":-4,"y":28},{"g":49,"x":-3,"y":50},{"g":49,"x":5,"y":50},{"g":49,"x":6,"y":90},{"g":49,"x":27,"y":90},{"g":49,"x":28,"y":130},{"g":49,"x":30,"y":130},
{"g":50,"x":-30,"y":0},{"g":50,"x":-18,"y":0},{"g":50,"x":-17,"y":18},{"g":50,"x":-2,"y":18},{"g":50,"x":-1,"y":55},{"g":50,"x":3,"y":55},{"g":50,"x":4,"y":105},{"g":50,"x":11,"y":105},{"g":50,"x":12,"y":135},{"g":50,"x":30,"y":135},
{"g":51,"x":-30,"y":0},{"g":51,"x":-1,"y":0},{"g":51,"x":0,"y":25},{"g":51,"x":6,"y":25},{"g":51,"x":7,"y":65},{"g":51,"x":22,"y":65},{"g":51,"x":23,"y":80},{"g":51,"x":30,"y":80},
{"g":52,"x":-30,"y":0},{"g":52,"x":4,"y":0},{"g":52,"x":5,"y":40},{"g":52,"x":11,"y":40},{"g":52,"x":12,"y":70},{"g":52,"x":30,"y":70},
{"g":53,"x":-30,"y":0},{"g":53,"x":-12,"y":0},{"g":53,"x":-11,"y":30},{"g":53,"x":0,"y":30},{"g":53,"x":1,"y":90},{"g":53,"x":8,"y":90},{"g":53,"x":9,"y":110},{"g":53,"x":20,"y":110},{"g":53,"x":21,"y":125},{"g":53,"x":30,"y":125},
{"g":54,"x":-30,"y":0},{"g":54,"x":-6,"y":0},{"g":54,"x":-5,"y":45},{"g":54,"x":2,"y":45},{"g":54,"x":3,"y":120},{"g":54,"x":13,"y":120},{"g":54,"x":14,"y":150},{"g":54,"x":30,"y":150},
{"g":55,"x":-30,"y":0},{"g":55,"x":-20,"y":0},{"g":55,"x":-19,"y":15},{"g":55,"x":-1,"y":15},{"g":55,"x":0,"y":70},{"g":55,"x":3,"y":70},{"g":55,"x":4,"y":110},{"g":55,"x":9,"y":110},{"g":55,"x":10,"y":150},{"g":55,"x":30,"y":150},
{"g":56,"x":-30,"y":0},{"g":56,"x":-16,"y":0},{"g":56,"x":-15,"y":35},{"g":56,"x":-2,"y":35},{"g":56,"x":-1,"y":80},{"g":56,"x":4,"y":80},{"g":56,"x":5,"y":130},{"g":56,"x":15,"y":130},{"g":56,"x":16,"y":160},{"g":56,"x":30,"y":160},
{"g":57,"x":-30,"y":0},{"g":57,"x":-9,"y":0},{"g":57,"x":-8,"y":30},{"g":57,"x":1,"y":30},{"g":57,"x":2,"y":85},{"g":57,"x":6,"y":85},{"g":57,"x":7,"y":115},{"g":57,"x":18,"y":115},{"g":57,"x":19,"y":140},{"g":57,"x":30,"y":140},
{"g":58,"x":-30,"y":0},{"g":58,"x":-27,"y":0},{"g":58,"x":-26,"y":40},{"g":58,"x":-6,"y":40},{"g":58,"x":-5,"y":60},{"g":58,"x":2,"y":60},{"g":58,"x":3,"y":100},{"g":58,"x":7,"y":100},{"g":58,"x":8,"y":135},{"g":58,"x":24,"y":135},{"g":58,"x":25,"y":165},{"g":58,"x":30,"y":165},
{"g":59,"x":-30,"y":0},{"g":59,"x":-11,"y":0},{"g":59,"x":-10,"y":20},{"g":59,"x":-1,"y":20},{"g":59,"x":0,"y":50},{"g":59,"x":5,"y":50},{"g":59,"x":6,"y":90},{"g":59,"x":10,"y":90},{"g":59,"x":11,"y":120},{"g":59,"x":30,"y":120},
{"g":60,"x":-30,"y":0},{"g":60,"x":-24,"y":0},{"g":60,"x":-23,"y":30},{"g":60,"x":-4,"y":30},{"g":60,"x":-3,"y":40},{"g":60,"x":3,"y":40},{"g":60,"x":4,"y":75},{"g":60,"x":8,"y":75},{"g":60,"x":9,"y":115},{"g":60,"x":19,"y":115},{"g":60,"x":20,"y":150},{"g":60,"x":30,"y":150},
{"g":61,"x":-30,"y":0},{"g":61,"x":-8,"y":0},{"g":61,"x":-7,"y":35},{"g":61,"x":0,"y":35},{"g":61,"x":1,"y":65},{"g":61,"x":5,"y":65},{"g":61,"x":6,"y":105},{"g":61,"x":11,"y":105},{"g":61,"x":12,"y":145},{"g":61,"x":27,"y":145},{"g":61,"x":28,"y":175},{"g":61,"x":30,"y":175},
{"g":62,"x":-30,"y":0},{"g":62,"x":-19,"y":0},{"g":62,"x":-18,"y":10},{"g":62,"x":-5,"y":10},{"g":62,"x":-4,"y":50},{"g":62,"x":2,"y":50},{"g":62,"x":3,"y":95},{"g":62,"x":9,"y":95},{"g":62,"x":10,"y":130},{"g":62,"x":30,"y":130},
{"g":63,"x":-30,"y":0},{"g":63,"x":-13,"y":0},{"g":63,"x":-12,"y":25},{"g":63,"x":-3,"y":25},{"g":63,"x":-2,"y":65},{"g":63,"x":4,"y":65},{"g":63,"x":5,"y":100},{"g":63,"x":14,"y":100},{"g":63,"x":15,"y":155},{"g":63,"x":30,"y":155},
{"g":64,"x":-30,"y":0},{"g":64,"x":-6,"y":0},{"g":64,"x":-5,"y":25},{"g":64,"x":3,"y":25},{"g":64,"x":4,"y":55},{"g":64,"x":7,"y":55},{"g":64,"x":8,"y":100},{"g":64,"x":16,"y":100},{"g":64,"x":17,"y":125},{"g":64,"x":30,"y":125},
{"g":65,"x":-30,"y":0},{"g":65,"x":-22,"y":0},{"g":65,"x":-21,"y":18},{"g":65,"x":-10,"y":18},{"g":65,"x":-9,"y":45},{"g":65,"x":0,"y":45},{"g":65,"x":1,"y":75},{"g":65,"x":6,"y":75},{"g":65,"x":7,"y":95},{"g":65,"x":13,"y":95},{"g":65,"x":14,"y":130},{"g":65,"x":30,"y":130},
{"g":66,"x":-30,"y":0},{"g":66,"x":-2,"y":0},{"g":66,"x":-1,"y":45},{"g":66,"x":4,"y":45},{"g":66,"x":5,"y":90},{"g":66,"x":8,"y":90},{"g":66,"x":9,"y":120},{"g":66,"x":21,"y":120},{"g":66,"x":22,"y":145},{"g":66,"x":30,"y":145},
{"g":67,"x":-30,"y":0},{"g":67,"x":-15,"y":0},{"g":67,"x":-14,"y":12},{"g":67,"x":0,"y":12},{"g":67,"x":1,"y":50},{"g":67,"x":7,"y":50},{"g":67,"x":8,"y":70},{"g":67,"x":12,"y":70},{"g":67,"x":13,"y":90},{"g":67,"x":30,"y":90},
{"g":68,"x":-30,"y":0},{"g":68,"x":-4,"y":0},{"g":68,"x":-3,"y":15},{"g":68,"x":5,"y":15},{"g":68,"x":6,"y":45},{"g":68,"x":9,"y":45},{"g":68,"x":10,"y":85},{"g":68,"x":17,"y":85},{"g":68,"x":18,"y":105},{"g":68,"x":30,"y":105},
{"g":69,"x":-30,"y":0},{"g":69,"x":1,"y":0},{"g":69,"x":2,"y":40},{"g":69,"x":4,"y":40},{"g":69,"x":5,"y":75},{"g":69,"x":11,"y":75},{"g":69,"x":12,"y":110},{"g":69,"x":30,"y":110},
{"g":70,"x":-30,"y":0},{"g":70,"x":-29,"y":0},{"g":70,"x":-28,"y":25},{"g":70,"x":-17,"y":25},{"g":70,"x":-16,"y":35},{"g":70,"x":-6,"y":35},{"g":70,"x":-5,"y":70},{"g":70,"x":1,"y":70},{"g":70,"x":2,"y":115},{"g":70,"x":7,"y":115},{"g":70,"x":8,"y":140},{"g":70,"x":20,"y":140},{"g":70,"x":21,"y":170},{"g":70,"x":30,"y":170},
{"g":71,"x":-30,"y":0},{"g":71,"x":-10,"y":0},{"g":71,"x":-9,"y":40},{"g":71,"x":-1,"y":40},{"g":71,"x":0,"y":85},{"g":71,"x":6,"y":85},{"g":71,"x":7,"y":125},{"g":71,"x":30,"y":125},
{"g":72,"x":-30,"y":0},{"g":72,"x":3,"y":0},{"g":72,"x":4,"y":35},{"g":72,"x":8,"y":35},{"g":72,"x":9,"y":60},{"g":72,"x":15,"y":60},{"g":72,"x":16,"y":100},{"g":72,"x":30,"y":100},
{"g":73,"x":-30,"y":0},{"g":73,"x":-25,"y":0},{"g":73,"x":-24,"y":22},{"g":73,"x":-14,"y":22},{"g":73,"x":-13,"y":30},{"g":73,"x":2,"y":30},{"g":73,"x":3,"y":80},{"g":73,"x":10,"y":80},{"g":73,"x":11,"y":105},{"g":73,"x":25,"y":105},{"g":73,"x":26,"y":135},{"g":73,"x":30,"y":135},
{"g":74,"x":-30,"y":0},{"g":74,"x":-7,"y":0},{"g":74,"x":-6,"y":5},{"g":74,"x":6,"y":5},{"g":74,"x":7,"y":30},{"g":74,"x":30,"y":30}
],
"g3":[
{"g":1,"x":-30,"y":0},{"g":1,"x":-26,"y":0},{"g":1,"x":-25,"y":100},{"g":1,"x":-5,"y":100},{"g":1,"x":-4,"y":200},{"g":1,"x":1,"y":200},{"g":1,"x":2,"y":160},{"g":1,"x":3,"y":20},{"g":1,"x":30,"y":20},
{"g":2,"x":-30,"y":0},{"g":2,"x":-22,"y":0},{"g":2,"x":-21,"y":100},{"g":2,"x":7,"y":100},{"g":2,"x":8,"y":42},{"g":2,"x":25,"y":42},{"g":2,"x":26,"y":100},{"g":2,"x":30,"y":100},
{"g":3,"x":-30,"y":0},{"g":3,"x":-15,"y":0},{"g":3,"x":-14,"y":100},{"g":3,"x":1,"y":100},{"g":3,"x":2,"y":28},{"g":3,"x":30,"y":28},
{"g":4,"x":-30,"y":0},{"g":4,"x":-14,"y":0},{"g":4,"x":-13,"y":80},{"g":4,"x":1,"y":80},{"g":4,"x":3,"y":40},{"g":4,"x":30,"y":40},
{"g":5,"x":-30,"y":0},{"g":5,"x":-13,"y":0},{"g":5,"x":-12,"y":60},{"g":5,"x":0,"y":60},{"g":5,"x":1,"y":20},{"g":5,"x":8,"y":20},{"g":5,"x":9,"y":10},{"g":5,"x":30,"y":10},
{"g":6,"x":-30,"y":0},{"g":6,"x":-12,"y":0},{"g":6,"x":-11,"y":40},{"g":6,"x":-1,"y":40},{"g":6,"x":0,"y":-20},{"g":6,"x":4,"y":-20},{"g":6,"x":5,"y":-60},{"g":6,"x":30,"y":-60},
{"g":7,"x":-30,"y":0},{"g":7,"x":-25,"y":0},{"g":7,"x":-24,"y":20},{"g":7,"x":-7,"y":20},{"g":7,"x":-6,"y":0},{"g":7,"x":3,"y":0},{"g":7,"x":4,"y":-40},{"g":7,"x":30,"y":-40},
{"g":8,"x":-30,"y":0},{"g":8,"x":-28,"y":0},{"g":8,"x":-27,"y":-80},{"g":8,"x":-20,"y":-80},{"g":8,"x":-19,"y":-20},{"g":8,"x":-2,"y":-20},{"g":8,"x":-1,"y":-60},{"g":8,"x":30,"y":-60},
{"g":9,"x":-30,"y":0},{"g":9,"x":-27,"y":0},{"g":9,"x":-26,"y":-120},{"g":9,"x":-13,"y":-120},{"g":9,"x":-12,"y":-160},{"g":9,"x":-6,"y":-160},{"g":9,"x":-5,"y":-180},{"g":9,"x":0,"y":-180},{"g":9,"x":1,"y":-200},{"g":9,"x":30,"y":-200},
{"g":10,"x":-30,"y":0},{"g":10,"x":-26,"y":0},{"g":10,"x":-25,"y":-30},{"g":10,"x":-12,"y":-30},{"g":10,"x":-11,"y":-140},{"g":10,"x":-8,"y":-140},{"g":10,"x":-7,"y":-180},{"g":10,"x":30,"y":-180},
{"g":11,"x":-30,"y":0},{"g":11,"x":-28,"y":0},{"g":11,"x":-27,"y":-40},{"g":11,"x":-14,"y":-40},{"g":11,"x":-13,"y":-70},{"g":11,"x":0,"y":-70},{"g":11,"x":1,"y":-120},{"g":11,"x":30,"y":-120},
{"g":12,"x":-30,"y":0},{"g":12,"x":-29,"y":0},{"g":12,"x":-28,"y":-30},{"g":12,"x":-19,"y":-30},{"g":12,"x":-18,"y":-10},{"g":12,"x":0,"y":-10},{"g":12,"x":1,"y":-30},{"g":12,"x":7,"y":-30},{"g":12,"x":8,"y":-90},{"g":12,"x":30,"y":-90},
{"g":13,"x":-30,"y":0},{"g":13,"x":-12,"y":0},{"g":13,"x":-11,"y":-60},{"g":13,"x":-1,"y":-60},{"g":13,"x":0,"y":-150},{"g":13,"x":2,"y":-150},{"g":13,"x":3,"y":-220},{"g":13,"x":30,"y":-220},
{"g":14,"x":-30,"y":0},{"g":14,"x":-10,"y":0},{"g":14,"x":-9,"y":-100},{"g":14,"x":-5,"y":-100},{"g":14,"x":-4,"y":-170},{"g":14,"x":1,"y":-170},{"g":14,"x":2,"y":-190},{"g":14,"x":27,"y":-190},{"g":14,"x":28,"y":-280},{"g":14,"x":30,"y":-280},
{"g":15,"x":-30,"y":0},{"g":15,"x":-9,"y":0},{"g":15,"x":-8,"y":-20},{"g":15,"x":1,"y":-20},{"g":15,"x":2,"y":-50},{"g":15,"x":30,"y":-50},
{"g":16,"x":-30,"y":0},{"g":16,"x":-7,"y":0},{"g":16,"x":-6,"y":-15},{"g":16,"x":2,"y":-15},{"g":16,"x":4,"y":-70},{"g":16,"x":12,"y":-70},{"g":16,"x":13,"y":-85},{"g":16,"x":30,"y":-85},
{"g":17,"x":-30,"y":0},{"g":17,"x":-5,"y":0},{"g":17,"x":-4,"y":-30},{"g":17,"x":3,"y":-30},{"g":17,"x":4,"y":-100},{"g":17,"x":30,"y":-100},
{"g":18,"x":-30,"y":0},{"g":18,"x":-3,"y":0},{"g":18,"x":-2,"y":-10},{"g":18,"x":5,"y":-10},{"g":18,"x":6,"y":-45},{"g":18,"x":30,"y":-45},
{"g":19,"x":-30,"y":0},{"g":19,"x":-1,"y":0},{"g":19,"x":0,"y":-40},{"g":19,"x":6,"y":-40},{"g":19,"x":7,"y":-110},{"g":19,"x":30,"y":-110},
{"g":20,"x":-30,"y":0},{"g":20,"x":0,"y":0},{"g":20,"x":1,"y":-60},{"g":20,"x":13,"y":-60},{"g":20,"x":14,"y":-95},{"g":20,"x":30,"y":-95},
{"g":21,"x":-30,"y":0},{"g":21,"x":1,"y":0},{"g":21,"x":2,"y":-25},{"g":21,"x":30,"y":-25},
{"g":22,"x":-30,"y":0},{"g":22,"x":2,"y":0},{"g":22,"x":3,"y":-80},{"g":22,"x":30,"y":-80},
{"g":23,"x":-30,"y":0},{"g":23,"x":3,"y":0},{"g":23,"x":4,"y":-55},{"g":23,"x":14,"y":-55},{"g":23,"x":15,"y":-130},{"g":23,"x":30,"y":-130},
{"g":24,"x":-30,"y":0},{"g":24,"x":4,"y":0},{"g":24,"x":5,"y":-35},{"g":24,"x":30,"y":-35},
{"g":25,"x":-30,"y":0},{"g":25,"x":5,"y":0},{"g":25,"x":6,"y":-65},{"g":25,"x":20,"y":-65},{"g":25,"x":21,"y":-70},{"g":25,"x":30,"y":-70},
{"g":26,"x":-30,"y":0},{"g":26,"x":6,"y":0},{"g":26,"x":7,"y":-20},{"g":26,"x":12,"y":-20},{"g":26,"x":13,"y":-140},{"g":26,"x":30,"y":-140},
{"g":27,"x":-30,"y":0},{"g":27,"x":7,"y":0},{"g":27,"x":8,"y":-50},{"g":27,"x":30,"y":-50},
{"g":28,"x":-30,"y":0},{"g":28,"x":0,"y":0},{"g":28,"x":1,"y":30},{"g":28,"x":5,"y":30},{"g":28,"x":6,"y":0},{"g":28,"x":10,"y":0},{"g":28,"x":11,"y":-30},{"g":28,"x":30,"y":-30},
{"g":29,"x":-30,"y":0},{"g":29,"x":-2,"y":0},{"g":29,"x":-1,"y":-15},{"g":29,"x":5,"y":-15},{"g":29,"x":6,"y":-25},{"g":29,"x":20,"y":-25},{"g":29,"x":22,"y":15},{"g":29,"x":30,"y":15},
{"g":30,"x":-30,"y":0},{"g":30,"x":1,"y":0},{"g":30,"x":2,"y":-90},{"g":30,"x":27,"y":-90},{"g":30,"x":28,"y":-125},{"g":30,"x":30,"y":-125},
{"g":31,"x":-30,"y":0},{"g":31,"x":2,"y":0},{"g":31,"x":3,"y":-45},{"g":31,"x":9,"y":-45},{"g":31,"x":10,"y":-115},{"g":31,"x":30,"y":-115},
{"g":32,"x":-30,"y":0},{"g":32,"x":-4,"y":0},{"g":32,"x":-3,"y":-25},{"g":32,"x":0,"y":-25},{"g":32,"x":1,"y":-160},{"g":32,"x":30,"y":-160},
{"g":33,"x":-30,"y":0},{"g":33,"x":-8,"y":0},{"g":33,"x":-7,"y":-35},{"g":33,"x":2,"y":-35},{"g":33,"x":3,"y":-100},{"g":33,"x":25,"y":-100},{"g":33,"x":26,"y":-150},{"g":33,"x":30,"y":-150},
{"g":34,"x":-30,"y":0},{"g":34,"x":3,"y":0},{"g":34,"x":4,"y":-40},{"g":34,"x":15,"y":-40},{"g":34,"x":16,"y":-105},{"g":34,"x":30,"y":-105},
{"g":35,"x":-30,"y":0},{"g":35,"x":-1,"y":0},{"g":35,"x":0,"y":40},{"g":35,"x":30,"y":40},
{"g":36,"x":-30,"y":0},{"g":36,"x":-16,"y":0},{"g":36,"x":-15,"y":-10},{"g":36,"x":-4,"y":-10},{"g":36,"x":-3,"y":-30},{"g":36,"x":4,"y":-30},{"g":36,"x":5,"y":-85},{"g":36,"x":30,"y":-85},
{"g":37,"x":-30,"y":0},{"g":37,"x":-12,"y":0},{"g":37,"x":-11,"y":-25},{"g":37,"x":1,"y":-25},{"g":37,"x":2,"y":-95},{"g":37,"x":30,"y":-95},
{"g":38,"x":-30,"y":0},{"g":38,"x":-6,"y":0},{"g":38,"x":-5,"y":-20},{"g":38,"x":2,"y":-20},{"g":38,"x":3,"y":-60},{"g":38,"x":30,"y":-60},
{"g":39,"x":-30,"y":0},{"g":39,"x":-2,"y":0},{"g":39,"x":-1,"y":-35},{"g":39,"x":3,"y":-35},{"g":39,"x":4,"y":-120},{"g":39,"x":30,"y":-120},
{"g":40,"x":-30,"y":0},{"g":40,"x":0,"y":0},{"g":40,"x":1,"y":-45},{"g":40,"x":8,"y":-45},{"g":40,"x":9,"y":-90},{"g":40,"x":30,"y":-90},
{"g":41,"x":-30,"y":0},{"g":41,"x":1,"y":0},{"g":41,"x":2,"y":-70},{"g":41,"x":30,"y":-70},
{"g":42,"x":-30,"y":0},{"g":42,"x":3,"y":0},{"g":42,"x":4,"y":-15},{"g":42,"x":13,"y":-15},{"g":42,"x":14,"y":-50},{"g":42,"x":30,"y":-50},
{"g":43,"x":-30,"y":0},{"g":43,"x":5,"y":0},{"g":43,"x":6,"y":-100},{"g":43,"x":30,"y":-100},
{"g":44,"x":-30,"y":0},{"g":44,"x":-10,"y":0},{"g":44,"x":-9,"y":-50},{"g":44,"x":-1,"y":-50},{"g":44,"x":0,"y":-130},{"g":44,"x":30,"y":-130},
{"g":45,"x":-30,"y":0},{"g":45,"x":-13,"y":0},{"g":45,"x":-12,"y":-20},{"g":45,"x":-1,"y":-20},{"g":45,"x":0,"y":-80},{"g":45,"x":14,"y":-80},{"g":45,"x":15,"y":-100},{"g":45,"x":30,"y":-100},
{"g":46,"x":-30,"y":0},{"g":46,"x":2,"y":0},{"g":46,"x":3,"y":-55},{"g":46,"x":30,"y":-55},
{"g":47,"x":-30,"y":0},{"g":47,"x":6,"y":0},{"g":47,"x":7,"y":-40},{"g":47,"x":12,"y":-40},{"g":47,"x":13,"y":-65},{"g":47,"x":30,"y":-65},
{"g":48,"x":-30,"y":0},{"g":48,"x":-1,"y":0},{"g":48,"x":0,"y":25},{"g":48,"x":2,"y":25},{"g":48,"x":3,"y":0},{"g":48,"x":30,"y":0},
{"g":49,"x":-30,"y":0},{"g":49,"x":4,"y":0},{"g":49,"x":5,"y":-110},{"g":49,"x":30,"y":-110},
{"g":50,"x":-30,"y":0},{"g":50,"x":-3,"y":0},{"g":50,"x":-2,"y":-5},{"g":50,"x":8,"y":-5},{"g":50,"x":9,"y":-40},{"g":50,"x":30,"y":-40},
{"g":51,"x":-30,"y":0},{"g":51,"x":-11,"y":0},{"g":51,"x":-10,"y":-40},{"g":51,"x":-1,"y":-40},{"g":51,"x":0,"y":-75},{"g":51,"x":6,"y":-75},{"g":51,"x":7,"y":-120},{"g":51,"x":30,"y":-120},
{"g":52,"x":-30,"y":0},{"g":52,"x":-5,"y":0},{"g":52,"x":-4,"y":-10},{"g":52,"x":2,"y":-10},{"g":52,"x":3,"y":-45},{"g":52,"x":30,"y":-45},
{"g":53,"x":-30,"y":0},{"g":53,"x":-1,"y":0},{"g":53,"x":0,"y":-30},{"g":53,"x":4,"y":-30},{"g":53,"x":5,"y":-90},{"g":53,"x":30,"y":-90},
{"g":54,"x":-30,"y":0},{"g":54,"x":1,"y":0},{"g":54,"x":2,"y":-60},{"g":54,"x":10,"y":-60},{"g":54,"x":11,"y":-95},{"g":54,"x":30,"y":-95},
{"g":55,"x":-30,"y":0},{"g":55,"x":3,"y":0},{"g":55,"x":4,"y":-25},{"g":55,"x":30,"y":-25},
{"g":56,"x":-30,"y":0},{"g":56,"x":-8,"y":0},{"g":56,"x":-7,"y":-10},{"g":56,"x":0,"y":-10},{"g":56,"x":1,"y":-50},{"g":56,"x":12,"y":-50},{"g":56,"x":13,"y":-70},{"g":56,"x":30,"y":-70},
{"g":57,"x":-30,"y":0},{"g":57,"x":-14,"y":0},{"g":57,"x":-13,"y":-30},{"g":57,"x":-2,"y":-30},{"g":57,"x":-1,"y":-100},{"g":57,"x":30,"y":-100},
{"g":58,"x":-30,"y":0},{"g":58,"x":2,"y":0},{"g":58,"x":3,"y":-35},{"g":58,"x":9,"y":-35},{"g":58,"x":10,"y":-80},{"g":58,"x":30,"y":-80},
{"g":59,"x":-30,"y":0},{"g":59,"x":0,"y":0},{"g":59,"x":1,"y":-15},{"g":59,"x":30,"y":-15},
{"g":60,"x":-30,"y":0},{"g":60,"x":5,"y":0},{"g":60,"x":6,"y":-55},{"g":60,"x":30,"y":-55},
{"g":61,"x":-30,"y":0},{"g":61,"x":-3,"y":0},{"g":61,"x":-2,"y":-50},{"g":61,"x":4,"y":-50},{"g":61,"x":5,"y":-140},{"g":61,"x":30,"y":-140},
{"g":62,"x":-30,"y":0},{"g":62,"x":-17,"y":0},{"g":62,"x":-16,"y":-160},{"g":62,"x":-6,"y":-160},{"g":62,"x":-5,"y":-180},{"g":62,"x":30,"y":-180}
],
"g4":[
{"g":1,"x":-30,"y":0},{"g":1,"x":-9,"y":0},{"g":1,"x":-8,"y":350},{"g":1,"x":4,"y":350},{"g":1,"x":5,"y":360},{"g":1,"x":21,"y":360},{"g":1,"x":22,"y":378},{"g":1,"x":30,"y":378},
{"g":2,"x":-30,"y":0},{"g":2,"x":-29,"y":140},{"g":2,"x":-24,"y":140},{"g":2,"x":-23,"y":180},{"g":2,"x":9,"y":180},{"g":2,"x":10,"y":200},{"g":2,"x":30,"y":200},
{"g":3,"x":-30,"y":0},{"g":3,"x":-28,"y":0},{"g":3,"x":-27,"y":40},{"g":3,"x":-10,"y":40},{"g":3,"x":-9,"y":100},{"g":3,"x":3,"y":100},{"g":3,"x":4,"y":150},{"g":3,"x":12,"y":150},{"g":3,"x":13,"y":500},{"g":3,"x":30,"y":500},
{"g":4,"x":-30,"y":0},{"g":4,"x":-27,"y":0},{"g":4,"x":-26,"y":30},{"g":4,"x":-12,"y":30},{"g":4,"x":-11,"y":80},{"g":4,"x":0,"y":80},{"g":4,"x":1,"y":130},{"g":4,"x":8,"y":130},{"g":4,"x":9,"y":300},{"g":4,"x":13,"y":300},{"g":4,"x":14,"y":460},{"g":4,"x":30,"y":460},
{"g":5,"x":-30,"y":0},{"g":5,"x":-28,"y":0},{"g":5,"x":-27,"y":20},{"g":5,"x":-14,"y":20},{"g":5,"x":-13,"y":60},{"g":5,"x":-2,"y":60},{"g":5,"x":-1,"y":110},{"g":5,"x":6,"y":110},{"g":5,"x":7,"y":210},{"g":5,"x":12,"y":210},{"g":5,"x":13,"y":330},{"g":5,"x":30,"y":330},
{"g":6,"x":-30,"y":0},{"g":6,"x":-25,"y":0},{"g":6,"x":-24,"y":50},{"g":6,"x":-8,"y":50},{"g":6,"x":-7,"y":90},{"g":6,"x":2,"y":90},{"g":6,"x":3,"y":140},{"g":6,"x":10,"y":140},{"g":6,"x":11,"y":240},{"g":6,"x":16,"y":240},{"g":6,"x":17,"y":320},{"g":6,"x":30,"y":320},
{"g":7,"x":-30,"y":0},{"g":7,"x":-22,"y":0},{"g":7,"x":-21,"y":20},{"g":7,"x":-6,"y":20},{"g":7,"x":-5,"y":70},{"g":7,"x":4,"y":70},{"g":7,"x":5,"y":120},{"g":7,"x":14,"y":120},{"g":7,"x":15,"y":250},{"g":7,"x":21,"y":250},{"g":7,"x":22,"y":290},{"g":7,"x":30,"y":290},
{"g":8,"x":-30,"y":0},{"g":8,"x":-20,"y":0},{"g":8,"x":-19,"y":40},{"g":8,"x":-4,"y":40},{"g":8,"x":-3,"y":80},{"g":8,"x":7,"y":80},{"g":8,"x":8,"y":160},{"g":8,"x":17,"y":160},{"g":8,"x":18,"y":270},{"g":8,"x":30,"y":270},
{"g":9,"x":-30,"y":0},{"g":9,"x":-18,"y":0},{"g":9,"x":-17,"y":-10},{"g":9,"x":30,"y":-10},
{"g":10,"x":-30,"y":0},{"g":10,"x":-7,"y":0},{"g":10,"x":-6,"y":-40},{"g":10,"x":0,"y":-40},{"g":10,"x":1,"y":0},{"g":10,"x":30,"y":0},
{"g":11,"x":-30,"y":0},{"g":11,"x":8,"y":0},{"g":11,"x":9,"y":-90},{"g":11,"x":30,"y":-90},
{"g":12,"x":-30,"y":0},{"g":12,"x":-26,"y":0},{"g":12,"x":-25,"y":45},{"g":12,"x":-13,"y":45},{"g":12,"x":-12,"y":100},{"g":12,"x":1,"y":100},{"g":12,"x":2,"y":150},{"g":12,"x":11,"y":150},{"g":12,"x":12,"y":180},{"g":12,"x":25,"y":180},{"g":12,"x":26,"y":240},{"g":12,"x":30,"y":240},
{"g":13,"x":-30,"y":0},{"g":13,"x":-24,"y":0},{"g":13,"x":-23,"y":15},{"g":13,"x":-10,"y":15},{"g":13,"x":-9,"y":50},{"g":13,"x":-1,"y":50},{"g":13,"x":0,"y":100},{"g":13,"x":9,"y":100},{"g":13,"x":10,"y":120},{"g":13,"x":23,"y":120},{"g":13,"x":24,"y":160},{"g":13,"x":30,"y":160},
{"g":14,"x":-30,"y":0},{"g":14,"x":-28,"y":0},{"g":14,"x":-27,"y":10},{"g":14,"x":-15,"y":10},{"g":14,"x":-14,"y":35},{"g":14,"x":-3,"y":35},{"g":14,"x":-2,"y":60},{"g":14,"x":5,"y":60},{"g":14,"x":6,"y":95},{"g":14,"x":19,"y":95},{"g":14,"x":20,"y":130},{"g":14,"x":30,"y":130},
{"g":15,"x":-30,"y":0},{"g":15,"x":-23,"y":0},{"g":15,"x":-22,"y":25},{"g":15,"x":-9,"y":25},{"g":15,"x":-8,"y":40},{"g":15,"x":2,"y":40},{"g":15,"x":3,"y":55},{"g":15,"x":15,"y":55},{"g":15,"x":16,"y":70},{"g":15,"x":30,"y":70},
{"g":16,"x":-30,"y":0},{"g":16,"x":-16,"y":0},{"g":16,"x":-15,"y":30},{"g":16,"x":-5,"y":30},{"g":16,"x":-4,"y":45},{"g":16,"x":6,"y":45},{"g":16,"x":7,"y":85},{"g":16,"x":18,"y":85},{"g":16,"x":19,"y":110},{"g":16,"x":30,"y":110},
{"g":17,"x":-30,"y":0},{"g":17,"x":-12,"y":0},{"g":17,"x":-11,"y":20},{"g":17,"x":0,"y":20},{"g":17,"x":1,"y":35},{"g":17,"x":30,"y":35},
{"g":18,"x":-30,"y":0},{"g":18,"x":-10,"y":0},{"g":18,"x":-9,"y":10},{"g":18,"x":3,"y":10},{"g":18,"x":4,"y":25},{"g":18,"x":16,"y":25},{"g":18,"x":17,"y":50},{"g":18,"x":30,"y":50},
{"g":19,"x":-30,"y":0},{"g":19,"x":-19,"y":0},{"g":19,"x":-18,"y":15},{"g":19,"x":-4,"y":15},{"g":19,"x":-3,"y":30},{"g":19,"x":10,"y":30},{"g":19,"x":11,"y":45},{"g":19,"x":27,"y":45},{"g":19,"x":28,"y":60},{"g":19,"x":30,"y":60},
{"g":20,"x":-30,"y":0},{"g":20,"x":-14,"y":0},{"g":20,"x":-13,"y":50},{"g":20,"x":-2,"y":50},{"g":20,"x":-1,"y":90},{"g":20,"x":8,"y":90},{"g":20,"x":9,"y":140},{"g":20,"x":20,"y":140},{"g":20,"x":21,"y":175},{"g":20,"x":30,"y":175},
{"g":21,"x":-30,"y":0},{"g":21,"x":-6,"y":0},{"g":21,"x":-5,"y":20},{"g":21,"x":5,"y":20},{"g":21,"x":6,"y":40},{"g":21,"x":30,"y":40},
{"g":22,"x":-30,"y":0},{"g":22,"x":-3,"y":0},{"g":22,"x":-2,"y":10},{"g":22,"x":12,"y":10},{"g":22,"x":13,"y":20},{"g":22,"x":30,"y":20},
{"g":23,"x":-30,"y":0},{"g":23,"x":-1,"y":0},{"g":23,"x":0,"y":30},{"g":23,"x":14,"y":30},{"g":23,"x":15,"y":80},{"g":23,"x":30,"y":80},
{"g":24,"x":-30,"y":0},{"g":24,"x":2,"y":0},{"g":24,"x":3,"y":5},{"g":24,"x":30,"y":5},
{"g":25,"x":-30,"y":0},{"g":25,"x":-29,"y":0},{"g":25,"x":-28,"y":30},{"g":25,"x":-16,"y":30},{"g":25,"x":-15,"y":70},{"g":25,"x":-3,"y":70},{"g":25,"x":-2,"y":110},{"g":25,"x":3,"y":110},{"g":25,"x":4,"y":130},{"g":25,"x":14,"y":130},{"g":25,"x":15,"y":150},{"g":25,"x":22,"y":150},{"g":25,"x":23,"y":220},{"g":25,"x":30,"y":220},
{"g":26,"x":-30,"y":0},{"g":26,"x":-25,"y":0},{"g":26,"x":-24,"y":10},{"g":26,"x":-11,"y":10},{"g":26,"x":-10,"y":65},{"g":26,"x":1,"y":65},{"g":26,"x":2,"y":95},{"g":26,"x":11,"y":95},{"g":26,"x":12,"y":115},{"g":26,"x":24,"y":115},{"g":26,"x":25,"y":140},{"g":26,"x":30,"y":140},
{"g":27,"x":-30,"y":0},{"g":27,"x":-21,"y":0},{"g":27,"x":-20,"y":35},{"g":27,"x":-7,"y":35},{"g":27,"x":-6,"y":75},{"g":27,"x":5,"y":75},{"g":27,"x":6,"y":105},{"g":27,"x":13,"y":105},{"g":27,"x":14,"y":200},{"g":27,"x":22,"y":200},{"g":27,"x":23,"y":310},{"g":27,"x":30,"y":310},
{"g":28,"x":-30,"y":0},{"g":28,"x":-17,"y":0},{"g":28,"x":-16,"y":45},{"g":28,"x":-4,"y":45},{"g":28,"x":-3,"y":120},{"g":28,"x":4,"y":120},{"g":28,"x":5,"y":175},{"g":28,"x":20,"y":175},{"g":28,"x":21,"y":210},{"g":28,"x":30,"y":210},
{"g":29,"x":-30,"y":0},{"g":29,"x":-13,"y":0},{"g":29,"x":-12,"y":25},{"g":29,"x":1,"y":25},{"g":29,"x":2,"y":60},{"g":29,"x":17,"y":60},{"g":29,"x":18,"y":100},{"g":29,"x":30,"y":100},
{"g":30,"x":-30,"y":0},{"g":30,"x":-9,"y":0},{"g":30,"x":-8,"y":15},{"g":30,"x":7,"y":15},{"g":30,"x":8,"y":65},{"g":30,"x":25,"y":65},{"g":30,"x":26,"y":90},{"g":30,"x":30,"y":90},
{"g":31,"x":-30,"y":0},{"g":31,"x":-27,"y":0},{"g":31,"x":-26,"y":25},{"g":31,"x":-6,"y":25},{"g":31,"x":-5,"y":55},{"g":31,"x":9,"y":55},{"g":31,"x":10,"y":160},{"g":31,"x":16,"y":160},{"g":31,"x":17,"y":190},{"g":31,"x":30,"y":190},
{"g":32,"x":-30,"y":0},{"g":32,"x":-5,"y":0},{"g":32,"x":-4,"y":100},{"g":32,"x":2,"y":100},{"g":32,"x":3,"y":125},{"g":32,"x":10,"y":125},{"g":32,"x":11,"y":135},{"g":32,"x":30,"y":135},
{"g":33,"x":-30,"y":0},{"g":33,"x":-11,"y":0},{"g":33,"x":-10,"y":30},{"g":33,"x":4,"y":30},{"g":33,"x":5,"y":50},{"g":33,"x":20,"y":50},{"g":33,"x":21,"y":75},{"g":33,"x":30,"y":75},
{"g":34,"x":-30,"y":0},{"g":34,"x":-15,"y":0},{"g":34,"x":-14,"y":60},{"g":34,"x":-1,"y":60},{"g":34,"x":0,"y":110},{"g":34,"x":7,"y":110},{"g":34,"x":8,"y":125},{"g":34,"x":24,"y":125},{"g":34,"x":25,"y":170},{"g":34,"x":30,"y":170},
{"g":35,"x":-30,"y":0},{"g":35,"x":-20,"y":0},{"g":35,"x":-19,"y":5},{"g":35,"x":1,"y":5},{"g":35,"x":2,"y":-5},{"g":35,"x":30,"y":-5},
{"g":36,"x":-30,"y":0},{"g":36,"x":-4,"y":0},{"g":36,"x":-3,"y":40},{"g":36,"x":3,"y":40},{"g":36,"x":4,"y":90},{"g":36,"x":12,"y":90},{"g":36,"x":13,"y":150},{"g":36,"x":30,"y":150},
{"g":37,"x":-30,"y":0},{"g":37,"x":-2,"y":0},{"g":37,"x":-1,"y":30},{"g":37,"x":4,"y":30},{"g":37,"x":5,"y":70},{"g":37,"x":10,"y":70},{"g":37,"x":11,"y":120},{"g":37,"x":30,"y":120},
{"g":38,"x":-30,"y":0},{"g":38,"x":0,"y":0},{"g":38,"x":1,"y":50},{"g":38,"x":6,"y":50},{"g":38,"x":7,"y":100},{"g":38,"x":16,"y":100},{"g":38,"x":17,"y":180},{"g":38,"x":30,"y":180},
{"g":39,"x":-30,"y":0},{"g":39,"x":2,"y":0},{"g":39,"x":3,"y":35},{"g":39,"x":9,"y":35},{"g":39,"x":10,"y":60},{"g":39,"x":30,"y":60},
{"g":40,"x":-30,"y":0},{"g":40,"x":-8,"y":0},{"g":40,"x":-7,"y":25},{"g":40,"x":1,"y":25},{"g":40,"x":2,"y":75},{"g":40,"x":8,"y":75},{"g":40,"x":9,"y":110},{"g":40,"x":30,"y":110},
{"g":41,"x":-30,"y":0},{"g":41,"x":-12,"y":0},{"g":41,"x":-11,"y":40},{"g":41,"x":-2,"y":40},{"g":41,"x":-1,"y":80},{"g":41,"x":5,"y":80},{"g":41,"x":6,"y":130},{"g":41,"x":19,"y":130},{"g":41,"x":20,"y":200},{"g":41,"x":30,"y":200},
{"g":42,"x":-30,"y":0},{"g":42,"x":-18,"y":0},{"g":42,"x":-17,"y":20},{"g":42,"x":-5,"y":20},{"g":42,"x":-4,"y":60},{"g":42,"x":11,"y":60},{"g":42,"x":12,"y":100},{"g":42,"x":30,"y":100},
{"g":43,"x":-30,"y":0},{"g":43,"x":3,"y":0},{"g":43,"x":4,"y":45},{"g":43,"x":13,"y":45},{"g":43,"x":14,"y":70},{"g":43,"x":30,"y":70},
{"g":44,"x":-30,"y":0},{"g":44,"x":-26,"y":0},{"g":44,"x":-25,"y":20},{"g":44,"x":-8,"y":20},{"g":44,"x":-7,"y":55},{"g":44,"x":3,"y":55},{"g":44,"x":4,"y":85},{"g":44,"x":15,"y":85},{"g":44,"x":16,"y":145},{"g":44,"x":30,"y":145},
{"g":45,"x":-30,"y":0},{"g":45,"x":-1,"y":0},{"g":45,"x":0,"y":15},{"g":45,"x":10,"y":15},{"g":45,"x":11,"y":50},{"g":45,"x":30,"y":50},
{"g":46,"x":-30,"y":0},{"g":46,"x":5,"y":0},{"g":46,"x":6,"y":30},{"g":46,"x":30,"y":30},
{"g":47,"x":-30,"y":0},{"g":47,"x":-22,"y":0},{"g":47,"x":-21,"y":30},{"g":47,"x":-9,"y":30},{"g":47,"x":-8,"y":60},{"g":47,"x":0,"y":60},{"g":47,"x":1,"y":140},{"g":47,"x":10,"y":140},{"g":47,"x":11,"y":250},{"g":47,"x":18,"y":250},{"g":47,"x":19,"y":300},{"g":47,"x":30,"y":300},
{"g":48,"x":-30,"y":0},{"g":48,"x":-16,"y":0},{"g":48,"x":-15,"y":10},{"g":48,"x":2,"y":10},{"g":48,"x":3,"y":45},{"g":48,"x":21,"y":45},{"g":48,"x":22,"y":85},{"g":48,"x":30,"y":85},
{"g":49,"x":-30,"y":0},{"g":49,"x":-10,"y":0},{"g":49,"x":-9,"y":20},{"g":49,"x":5,"y":20},{"g":49,"x":6,"y":55},{"g":49,"x":17,"y":55},{"g":49,"x":18,"y":125},{"g":49,"x":30,"y":125},
{"g":50,"x":-30,"y":0},{"g":50,"x":1,"y":0},{"g":50,"x":2,"y":25},{"g":50,"x":7,"y":25},{"g":50,"x":8,"y":90},{"g":50,"x":30,"y":90},
{"g":51,"x":-30,"y":0},{"g":51,"x":-14,"y":0},{"g":51,"x":-13,"y":35},{"g":51,"x":6,"y":35},{"g":51,"x":7,"y":160},{"g":51,"x":13,"y":160},{"g":51,"x":14,"y":230},{"g":51,"x":30,"y":230},
{"g":52,"x":-30,"y":0},{"g":52,"x":-23,"y":0},{"g":52,"x":-22,"y":15},{"g":52,"x":-6,"y":15},{"g":52,"x":-5,"y":45},{"g":52,"x":3,"y":45},{"g":52,"x":4,"y":95},{"g":52,"x":12,"y":95},{"g":52,"x":13,"y":120},{"g":52,"x":30,"y":120},
{"g":53,"x":-30,"y":0},{"g":53,"x":-19,"y":0},{"g":53,"x":-18,"y":30},{"g":53,"x":-3,"y":30},{"g":53,"x":-2,"y":70},{"g":53,"x":6,"y":70},{"g":53,"x":7,"y":115},{"g":53,"x":30,"y":115},
{"g":54,"x":-30,"y":0},{"g":54,"x":-11,"y":0},{"g":54,"x":-10,"y":50},{"g":54,"x":0,"y":50},{"g":54,"x":1,"y":85},{"g":54,"x":9,"y":85},{"g":54,"x":10,"y":155},{"g":54,"x":22,"y":155},{"g":54,"x":23,"y":185},{"g":54,"x":30,"y":185},
{"g":55,"x":-30,"y":0},{"g":55,"x":-7,"y":0},{"g":55,"x":-6,"y":10},{"g":55,"x":4,"y":10},{"g":55,"x":5,"y":40},{"g":55,"x":14,"y":40},{"g":55,"x":15,"y":60},{"g":55,"x":30,"y":60},
{"g":56,"x":-30,"y":0},{"g":56,"x":-28,"y":0},{"g":56,"x":-27,"y":45},{"g":56,"x":-13,"y":45},{"g":56,"x":-12,"y":90},{"g":56,"x":-1,"y":90},{"g":56,"x":0,"y":130},{"g":56,"x":8,"y":130},{"g":56,"x":9,"y":165},{"g":56,"x":30,"y":165},
{"g":57,"x":-30,"y":0},{"g":57,"x":-15,"y":0},{"g":57,"x":-14,"y":25},{"g":57,"x":-4,"y":25},{"g":57,"x":-3,"y":55},{"g":57,"x":7,"y":55},{"g":57,"x":8,"y":80},{"g":57,"x":18,"y":80},{"g":57,"x":19,"y":105},{"g":57,"x":30,"y":105},
{"g":58,"x":-30,"y":0},{"g":58,"x":-3,"y":0},{"g":58,"x":-2,"y":20},{"g":58,"x":8,"y":20},{"g":58,"x":9,"y":45},{"g":58,"x":30,"y":45},
{"g":59,"x":-30,"y":0},{"g":59,"x":-24,"y":0},{"g":59,"x":-23,"y":35},{"g":59,"x":-9,"y":35},{"g":59,"x":-8,"y":75},{"g":59,"x":2,"y":75},{"g":59,"x":3,"y":115},{"g":59,"x":11,"y":115},{"g":59,"x":12,"y":140},{"g":59,"x":30,"y":140},
{"g":60,"x":-30,"y":0},{"g":60,"x":0,"y":0},{"g":60,"x":1,"y":40},{"g":60,"x":11,"y":40},{"g":60,"x":12,"y":95},{"g":60,"x":30,"y":95},
{"g":61,"x":-30,"y":0},{"g":61,"x":-12,"y":0},{"g":61,"x":-11,"y":15},{"g":61,"x":6,"y":15},{"g":61,"x":7,"y":50},{"g":61,"x":30,"y":50},
{"g":62,"x":-30,"y":0},{"g":62,"x":-20,"y":0},{"g":62,"x":-19,"y":60},{"g":62,"x":-6,"y":60},{"g":62,"x":-5,"y":105},{"g":62,"x":4,"y":105},{"g":62,"x":5,"y":150},{"g":62,"x":17,"y":150},{"g":62,"x":18,"y":215},{"g":62,"x":30,"y":215},
{"g":63,"x":-30,"y":0},{"g":63,"x":-9,"y":0},{"g":63,"x":-8,"y":35},{"g":63,"x":3,"y":35},{"g":63,"x":4,"y":65},{"g":63,"x":30,"y":65},
{"g":64,"x":-30,"y":0},{"g":64,"x":-5,"y":0},{"g":64,"x":-4,"y":10},{"g":64,"x":9,"y":10},{"g":64,"x":10,"y":30},{"g":64,"x":30,"y":30},
{"g":65,"x":-30,"y":0},{"g":65,"x":-17,"y":0},{"g":65,"x":-16,"y":50},{"g":65,"x":-8,"y":50},{"g":65,"x":-7,"y":80},{"g":65,"x":6,"y":80},{"g":65,"x":7,"y":120},{"g":65,"x":15,"y":120},{"g":65,"x":16,"y":175},{"g":65,"x":30,"y":175}
]
},
"concat":[
{"width":386,"height":391,
 "title":{"text":["Observed pass-through by bank and year (%)","Policy rate cuts →","Listed mortgage rates 3m","2009–2025"]},
 "layer":[
  {"data":{"name":"g1"},"mark":{"type":"line","color":"#a0a0a0","strokeWidth":1.2},
   "encoding":{"x":{"field":"x","type":"quantitative","scale":{"domain":[-31.5,31.5],"nice":false,"zero":false},"axis":{"values":[-30,-20,-10,0,10,20,30]}},
     "y":{"field":"y","type":"quantitative","scale":{"domain":[-210,210],"nice":false,"zero":false},"axis":{"values":[-200,-100,0,100,200]}},
     "detail":{"field":"g","type":"nominal"}}},
  {"data":{"name":"s1"},"transform":[{"filter":"datum.s=='p'"}],"mark":{"type":"line","color":"#000000","strokeWidth":3.6},"encoding":{"x":{"field":"x","type":"quantitative"},"y":{"field":"y","type":"quantitative"}}},
  {"data":{"name":"s1"},"transform":[{"filter":"datum.s=='m'"}],"mark":{"type":"line","color":"#ff0000","strokeWidth":3.6,"strokeJoin":"round"},"encoding":{"x":{"field":"x","type":"quantitative"},"y":{"field":"y","type":"quantitative"}}},
  {"data":{"name":"s1"},"transform":[{"filter":"datum.s=='d'"}],"mark":{"type":"line","color":"#0000ff","strokeWidth":3.6,"strokeJoin":"round"},"encoding":{"x":{"field":"x","type":"quantitative"},"y":{"field":"y","type":"quantitative"}}}
 ]},
{"width":391,"height":391,
 "title":{"text":["Observed pass-through by bank and year (%)","Policy rate hikes →","Listed mortgage rates 3m","2009–2025"]},
 "layer":[
  {"data":{"name":"g2"},"mark":{"type":"line","color":"#a0a0a0","strokeWidth":1.2},
   "encoding":{"x":{"field":"x","type":"quantitative","scale":{"domain":[-31.6,31.5],"nice":false,"zero":false},"axis":{"values":[-30,-20,-10,0,10,20,30]}},
     "y":{"field":"y","type":"quantitative","scale":{"domain":[-16.8,256.3],"nice":false,"zero":false},"axis":{"values":[0,50,100,150,200,250]}},
     "detail":{"field":"g","type":"nominal"}}},
  {"data":{"name":"s2"},"transform":[{"filter":"datum.s=='p'"}],"mark":{"type":"line","color":"#000000","strokeWidth":3.6},"encoding":{"x":{"field":"x","type":"quantitative"},"y":{"field":"y","type":"quantitative"}}},
  {"data":{"name":"s2"},"transform":[{"filter":"datum.s=='m'"}],"mark":{"type":"line","color":"#ff0000","strokeWidth":3.6,"strokeJoin":"round"},"encoding":{"x":{"field":"x","type":"quantitative"},"y":{"field":"y","type":"quantitative"}}},
  {"data":{"name":"s2"},"transform":[{"filter":"datum.s=='d'"}],"mark":{"type":"line","color":"#0000ff","strokeWidth":3.6,"strokeJoin":"round"},"encoding":{"x":{"field":"x","type":"quantitative"},"y":{"field":"y","type":"quantitative"}}}
 ]},
{"width":386,"height":391,
 "title":{"text":["Observed pass-through by bank and year (%)","Policy rate cuts →","Listed mortgage rates 1y","2009–2025"]},
 "layer":[
  {"data":{"name":"g3"},"mark":{"type":"line","color":"#a0a0a0","strokeWidth":1.2},
   "encoding":{"x":{"field":"x","type":"quantitative","scale":{"domain":[-31.5,31.5],"nice":false,"zero":false},"axis":{"values":[-30,-20,-10,0,10,20,30]}},
     "y":{"field":"y","type":"quantitative","scale":{"domain":[-312,212],"nice":false,"zero":false},"axis":{"values":[-300,-200,-100,0,100,200]}},
     "detail":{"field":"g","type":"nominal"}}},
  {"data":{"name":"s3"},"transform":[{"filter":"datum.s=='p'"}],"mark":{"type":"line","color":"#000000","strokeWidth":3.6},"encoding":{"x":{"field":"x","type":"quantitative"},"y":{"field":"y","type":"quantitative"}}},
  {"data":{"name":"s3"},"transform":[{"filter":"datum.s=='m'"}],"mark":{"type":"line","color":"#ff0000","strokeWidth":3.6,"strokeJoin":"round"},"encoding":{"x":{"field":"x","type":"quantitative"},"y":{"field":"y","type":"quantitative"}}},
  {"data":{"name":"s3"},"transform":[{"filter":"datum.s=='d'"}],"mark":{"type":"line","color":"#0000ff","strokeWidth":3.6,"strokeJoin":"round"},"encoding":{"x":{"field":"x","type":"quantitative"},"y":{"field":"y","type":"quantitative"}}}
 ]},
{"width":391,"height":391,
 "title":{"text":["Observed pass-through by bank and year (%)","Policy rate hikes →","Listed mortgage rates 1y","2009–2025"]},
 "layer":[
  {"data":{"name":"g4"},"mark":{"type":"line","color":"#a0a0a0","strokeWidth":1.2},
   "encoding":{"x":{"field":"x","type":"quantitative","scale":{"domain":[-32.3,31.5],"nice":false,"zero":false},"axis":{"values":[-30,-20,-10,0,10,20,30]}},
     "y":{"field":"y","type":"quantitative","scale":{"domain":[-219,619],"nice":false,"zero":false},"axis":{"values":[-200,0,200,400,600]}},
     "detail":{"field":"g","type":"nominal"}}},
  {"data":{"name":"s4"},"transform":[{"filter":"datum.s=='p'"}],"mark":{"type":"line","color":"#000000","strokeWidth":3.6},"encoding":{"x":{"field":"x","type":"quantitative"},"y":{"field":"y","type":"quantitative"}}},
  {"data":{"name":"s4"},"transform":[{"filter":"datum.s=='m'"}],"mark":{"type":"line","color":"#ff0000","strokeWidth":3.6,"strokeJoin":"round"},"encoding":{"x":{"field":"x","type":"quantitative"},"y":{"field":"y","type":"quantitative"}}},
  {"data":{"name":"s4"},"transform":[{"filter":"datum.s=='d'"}],"mark":{"type":"line","color":"#0000ff","strokeWidth":3.6,"strokeJoin":"round"},"encoding":{"x":{"field":"x","type":"quantitative"},"y":{"field":"y","type":"quantitative"}}}
 ]}
]
}
